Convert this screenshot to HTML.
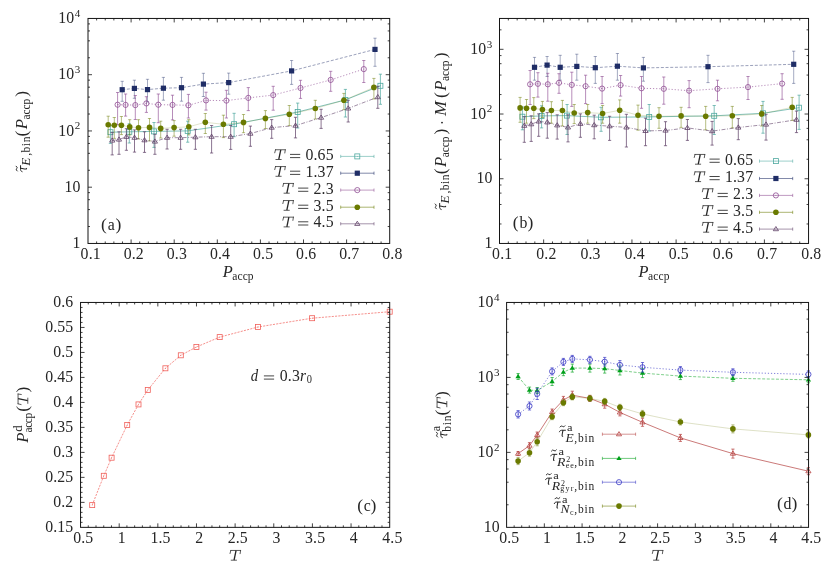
<!DOCTYPE html>
<html><head><meta charset="utf-8"><title>figure</title>
<style>html,body{margin:0;padding:0;background:#fff}svg{display:block;will-change:transform}text{font-family:"Liberation Serif",serif}</style>
</head><body>
<svg width="834" height="572" viewBox="0 0 834 572" font-family='"Liberation Serif", serif' fill="#262626">
<rect width="834" height="572" fill="#fff"/>
<path d="M110.4 125.6V143.4M108.8 125.6h3.2M108.8 143.4h3.2M129.3 123.7V143M127.7 123.7h3.2M127.7 143h3.2M154 122.5V147.4M152.4 122.5h3.2M152.4 147.4h3.2M187.7 121.2V142.2M186.1 121.2h3.2M186.1 142.2h3.2M234.1 113.3V136.7M232.5 113.3h3.2M232.5 136.7h3.2M297.7 103.1V128M296.1 103.1h3.2M296.1 128h3.2M345.4 89.4V117M343.8 89.4h3.2M343.8 117h3.2M380.4 74.2V104.3M378.8 74.2h3.2M378.8 104.3h3.2" stroke="#4fa9a0" stroke-width="0.8" fill="none" opacity="0.9"/>
<path d="M110.4 132.2 L129.3 131.8 L154 131.4 L187.7 130.9 L234.1 124.2 L297.7 112 L345.4 99.9 L380.4 85.8" stroke="#4fa9a0" stroke-width="0.7" fill="none" opacity="1"/>
<rect x="107.9" y="129.7" width="5" height="5" fill="none" stroke="#4fa9a0" stroke-width="0.8"/><circle cx="110.4" cy="132.2" r="0.45" fill="#4fa9a0"/><rect x="126.8" y="129.3" width="5" height="5" fill="none" stroke="#4fa9a0" stroke-width="0.8"/><circle cx="129.3" cy="131.8" r="0.45" fill="#4fa9a0"/><rect x="151.5" y="128.9" width="5" height="5" fill="none" stroke="#4fa9a0" stroke-width="0.8"/><circle cx="154" cy="131.4" r="0.45" fill="#4fa9a0"/><rect x="185.2" y="128.4" width="5" height="5" fill="none" stroke="#4fa9a0" stroke-width="0.8"/><circle cx="187.7" cy="130.9" r="0.45" fill="#4fa9a0"/><rect x="231.6" y="121.7" width="5" height="5" fill="none" stroke="#4fa9a0" stroke-width="0.8"/><circle cx="234.1" cy="124.2" r="0.45" fill="#4fa9a0"/><rect x="295.2" y="109.5" width="5" height="5" fill="none" stroke="#4fa9a0" stroke-width="0.8"/><circle cx="297.7" cy="112" r="0.45" fill="#4fa9a0"/><rect x="342.9" y="97.4" width="5" height="5" fill="none" stroke="#4fa9a0" stroke-width="0.8"/><circle cx="345.4" cy="99.9" r="0.45" fill="#4fa9a0"/><rect x="377.9" y="83.3" width="5" height="5" fill="none" stroke="#4fa9a0" stroke-width="0.8"/><circle cx="380.4" cy="85.8" r="0.45" fill="#4fa9a0"/>
<path d="M122.2 81.3V101.3M120.6 81.3h3.2M120.6 101.3h3.2M134.4 80.2V98.3M132.8 80.2h3.2M132.8 98.3h3.2M147.5 79.3V102M145.9 79.3h3.2M145.9 102h3.2M163.4 77.4V100.2M161.8 77.4h3.2M161.8 100.2h3.2M181.5 77.4V101.2M179.9 77.4h3.2M179.9 101.2h3.2M203.4 73.3V96.5M201.8 73.3h3.2M201.8 96.5h3.2M228.7 73.1V94.2M227.1 73.1h3.2M227.1 94.2h3.2M291.6 60.5V84.4M290 60.5h3.2M290 84.4h3.2M375 38.2V66.3M373.4 38.2h3.2M373.4 66.3h3.2" stroke="#1f2d66" stroke-width="0.8" fill="none" opacity="0.5"/>
<path d="M122.2 89.7 L134.4 88.4 L147.5 89.6 L163.4 88.2 L181.5 87.7 L203.4 84.1 L228.7 82.6 L291.6 70.9 L375 49.4" stroke="#1f2d66" stroke-width="0.6" fill="none" stroke-dasharray="3 1.7" opacity="0.75"/>
<rect x="119.6" y="87.1" width="5.2" height="5.2" fill="#1f2d66"/><rect x="131.8" y="85.8" width="5.2" height="5.2" fill="#1f2d66"/><rect x="144.9" y="87" width="5.2" height="5.2" fill="#1f2d66"/><rect x="160.8" y="85.6" width="5.2" height="5.2" fill="#1f2d66"/><rect x="178.9" y="85.1" width="5.2" height="5.2" fill="#1f2d66"/><rect x="200.8" y="81.5" width="5.2" height="5.2" fill="#1f2d66"/><rect x="226.1" y="80" width="5.2" height="5.2" fill="#1f2d66"/><rect x="289" y="68.3" width="5.2" height="5.2" fill="#1f2d66"/><rect x="372.4" y="46.8" width="5.2" height="5.2" fill="#1f2d66"/>
<path d="M117.6 92.5V124.5M116 92.5h3.2M116 124.5h3.2M125.6 94V116.1M124 94h3.2M124 116.1h3.2M135.3 95.5V119.5M133.7 95.5h3.2M133.7 119.5h3.2M146.4 96.7V112.4M144.8 96.7h3.2M144.8 112.4h3.2M158.3 94V122.7M156.7 94h3.2M156.7 122.7h3.2M172.5 95.2V119.9M170.9 95.2h3.2M170.9 119.9h3.2M188.4 94.4V118M186.8 94.4h3.2M186.8 118h3.2M206 92.2V110.1M204.4 92.2h3.2M204.4 110.1h3.2M226.4 90.3V118M224.8 90.3h3.2M224.8 118h3.2M248.3 87.6V110.6M246.7 87.6h3.2M246.7 110.6h3.2M273.2 86.3V110.2M271.6 86.3h3.2M271.6 110.2h3.2M300.5 80.3V98.4M298.9 80.3h3.2M298.9 98.4h3.2M330.7 71.3V91.3M329.1 71.3h3.2M329.1 91.3h3.2M363.8 60.5V82.5M362.2 60.5h3.2M362.2 82.5h3.2" stroke="#8e4b92" stroke-width="0.8" fill="none" opacity="0.8"/>
<path d="M117.6 104.7 L125.6 104.9 L135.3 105.1 L146.4 103.4 L158.3 104.7 L172.5 104.9 L188.4 105.3 L206 100.4 L226.4 100.6 L248.3 97.9 L273.2 95.1 L300.5 88 L330.7 79.9 L363.8 69.1" stroke="#8e4b92" stroke-width="0.7" fill="none" stroke-dasharray="1.2 1.9" opacity="0.9"/>
<circle cx="117.6" cy="104.7" r="2.6" fill="none" stroke="#8e4b92" stroke-width="0.8"/><circle cx="117.6" cy="104.7" r="0.45" fill="#8e4b92"/><circle cx="125.6" cy="104.9" r="2.6" fill="none" stroke="#8e4b92" stroke-width="0.8"/><circle cx="125.6" cy="104.9" r="0.45" fill="#8e4b92"/><circle cx="135.3" cy="105.1" r="2.6" fill="none" stroke="#8e4b92" stroke-width="0.8"/><circle cx="135.3" cy="105.1" r="0.45" fill="#8e4b92"/><circle cx="146.4" cy="103.4" r="2.6" fill="none" stroke="#8e4b92" stroke-width="0.8"/><circle cx="146.4" cy="103.4" r="0.45" fill="#8e4b92"/><circle cx="158.3" cy="104.7" r="2.6" fill="none" stroke="#8e4b92" stroke-width="0.8"/><circle cx="158.3" cy="104.7" r="0.45" fill="#8e4b92"/><circle cx="172.5" cy="104.9" r="2.6" fill="none" stroke="#8e4b92" stroke-width="0.8"/><circle cx="172.5" cy="104.9" r="0.45" fill="#8e4b92"/><circle cx="188.4" cy="105.3" r="2.6" fill="none" stroke="#8e4b92" stroke-width="0.8"/><circle cx="188.4" cy="105.3" r="0.45" fill="#8e4b92"/><circle cx="206" cy="100.4" r="2.6" fill="none" stroke="#8e4b92" stroke-width="0.8"/><circle cx="206" cy="100.4" r="0.45" fill="#8e4b92"/><circle cx="226.4" cy="100.6" r="2.6" fill="none" stroke="#8e4b92" stroke-width="0.8"/><circle cx="226.4" cy="100.6" r="0.45" fill="#8e4b92"/><circle cx="248.3" cy="97.9" r="2.6" fill="none" stroke="#8e4b92" stroke-width="0.8"/><circle cx="248.3" cy="97.9" r="0.45" fill="#8e4b92"/><circle cx="273.2" cy="95.1" r="2.6" fill="none" stroke="#8e4b92" stroke-width="0.8"/><circle cx="273.2" cy="95.1" r="0.45" fill="#8e4b92"/><circle cx="300.5" cy="88" r="2.6" fill="none" stroke="#8e4b92" stroke-width="0.8"/><circle cx="300.5" cy="88" r="0.45" fill="#8e4b92"/><circle cx="330.7" cy="79.9" r="2.6" fill="none" stroke="#8e4b92" stroke-width="0.8"/><circle cx="330.7" cy="79.9" r="0.45" fill="#8e4b92"/><circle cx="363.8" cy="69.1" r="2.6" fill="none" stroke="#8e4b92" stroke-width="0.8"/><circle cx="363.8" cy="69.1" r="0.45" fill="#8e4b92"/>
<path d="M108.2 116.2V137.2M106.6 116.2h3.2M106.6 137.2h3.2M114.3 117.5V138.4M112.7 117.5h3.2M112.7 138.4h3.2M121.4 116.5V134.6M119.8 116.5h3.2M119.8 134.6h3.2M129.7 119.7V135M128.1 119.7h3.2M128.1 135h3.2M138.5 119.7V138.9M136.9 119.7h3.2M136.9 138.9h3.2M149.5 118.5V140.9M147.9 118.5h3.2M147.9 140.9h3.2M160.7 121.2V138M159.1 121.2h3.2M159.1 138h3.2M174.1 120.6V136.2M172.5 120.6h3.2M172.5 136.2h3.2M188.8 119.7V134.9M187.2 119.7h3.2M187.2 134.9h3.2M205.3 113.5V133.5M203.7 113.5h3.2M203.7 133.5h3.2M223.4 115.2V137.6M221.8 115.2h3.2M221.8 137.6h3.2M243.5 114.5V132.7M241.9 114.5h3.2M241.9 132.7h3.2M265.4 110.6V128.5M263.8 110.6h3.2M263.8 128.5h3.2M289.3 105.5V125.6M287.7 105.5h3.2M287.7 125.6h3.2M315.3 100.3V119M313.7 100.3h3.2M313.7 119h3.2M343.9 93.4V109.7M342.3 93.4h3.2M342.3 109.7h3.2M373.9 78.4V99M372.3 78.4h3.2M372.3 99h3.2" stroke="#6a7a00" stroke-width="0.8" fill="none" opacity="0.62"/>
<path d="M108.2 124.7 L114.3 125.2 L121.4 125.3 L129.7 126.9 L138.5 127.7 L149.5 127.4 L160.7 128.4 L174.1 127.6 L188.8 126.8 L205.3 122.3 L223.4 124.3 L243.5 122.4 L265.4 118.4 L289.3 114.3 L315.3 108.5 L343.9 100.3 L373.9 87.4" stroke="#6a7a00" stroke-width="0.5" fill="none" opacity="0.4"/>
<circle cx="108.2" cy="124.7" r="2.8" fill="#6a7a00"/><circle cx="114.3" cy="125.2" r="2.8" fill="#6a7a00"/><circle cx="121.4" cy="125.3" r="2.8" fill="#6a7a00"/><circle cx="129.7" cy="126.9" r="2.8" fill="#6a7a00"/><circle cx="138.5" cy="127.7" r="2.8" fill="#6a7a00"/><circle cx="149.5" cy="127.4" r="2.8" fill="#6a7a00"/><circle cx="160.7" cy="128.4" r="2.8" fill="#6a7a00"/><circle cx="174.1" cy="127.6" r="2.8" fill="#6a7a00"/><circle cx="188.8" cy="126.8" r="2.8" fill="#6a7a00"/><circle cx="205.3" cy="122.3" r="2.8" fill="#6a7a00"/><circle cx="223.4" cy="124.3" r="2.8" fill="#6a7a00"/><circle cx="243.5" cy="122.4" r="2.8" fill="#6a7a00"/><circle cx="265.4" cy="118.4" r="2.8" fill="#6a7a00"/><circle cx="289.3" cy="114.3" r="2.8" fill="#6a7a00"/><circle cx="315.3" cy="108.5" r="2.8" fill="#6a7a00"/><circle cx="343.9" cy="100.3" r="2.8" fill="#6a7a00"/><circle cx="373.9" cy="87.4" r="2.8" fill="#6a7a00"/>
<path d="M112.2 132.4V154.9M110.6 132.4h3.2M110.6 154.9h3.2M119 131.8V154.3M117.4 131.8h3.2M117.4 154.3h3.2M126.4 128.7V150.3M124.8 128.7h3.2M124.8 150.3h3.2M134.5 129.9V152.1M132.9 129.9h3.2M132.9 152.1h3.2M144.5 131.8V152.4M142.9 131.8h3.2M142.9 152.4h3.2M154.9 134.3V154.3M153.3 134.3h3.2M153.3 154.3h3.2M167.1 129.3V149M165.5 129.3h3.2M165.5 149h3.2M180.6 129.3V149.3M179 129.3h3.2M179 149.3h3.2M195.4 129.3V149.3M193.8 129.3h3.2M193.8 149.3h3.2M211.6 125.5V153M210 125.5h3.2M210 153h3.2M230.7 125.5V149.4M229.1 125.5h3.2M229.1 149.4h3.2M250.4 126.1V146.3M248.8 126.1h3.2M248.8 146.3h3.2M271.7 119.6V138.3M270.1 119.6h3.2M270.1 138.3h3.2M295.5 117.3V137.9M293.9 117.3h3.2M293.9 137.9h3.2M321.1 109.3V128.4M319.5 109.3h3.2M319.5 128.4h3.2M348.2 100.3V122M346.6 100.3h3.2M346.6 122h3.2M377.8 86.3V108.3M376.2 86.3h3.2M376.2 108.3h3.2" stroke="#5e3f66" stroke-width="0.8" fill="none" opacity="0.9"/>
<path d="M112.2 140.5 L119 139.5 L126.4 136.8 L134.5 137.7 L144.5 140.2 L154.9 141.5 L167.1 137.7 L180.6 137.7 L195.4 137.2 L211.6 136.7 L230.7 136.7 L250.4 133.6 L271.7 127.6 L295.5 125.6 L321.1 117.6 L348.2 108.4 L377.8 97.1" stroke="#5e3f66" stroke-width="0.65" fill="none" stroke-dasharray="4 1.5 1 1.5" opacity="0.9"/>
<path d="M112.2 137.9L114.8 142.11H109.6Z" fill="none" stroke="#5e3f66" stroke-width="0.8"/><circle cx="112.2" cy="140.5" r="0.45" fill="#5e3f66"/><path d="M119 136.9L121.6 141.11H116.4Z" fill="none" stroke="#5e3f66" stroke-width="0.8"/><circle cx="119" cy="139.5" r="0.45" fill="#5e3f66"/><path d="M126.4 134.2L129 138.41H123.8Z" fill="none" stroke="#5e3f66" stroke-width="0.8"/><circle cx="126.4" cy="136.8" r="0.45" fill="#5e3f66"/><path d="M134.5 135.1L137.1 139.31H131.9Z" fill="none" stroke="#5e3f66" stroke-width="0.8"/><circle cx="134.5" cy="137.7" r="0.45" fill="#5e3f66"/><path d="M144.5 137.6L147.1 141.81H141.9Z" fill="none" stroke="#5e3f66" stroke-width="0.8"/><circle cx="144.5" cy="140.2" r="0.45" fill="#5e3f66"/><path d="M154.9 138.9L157.5 143.11H152.3Z" fill="none" stroke="#5e3f66" stroke-width="0.8"/><circle cx="154.9" cy="141.5" r="0.45" fill="#5e3f66"/><path d="M167.1 135.1L169.7 139.31H164.5Z" fill="none" stroke="#5e3f66" stroke-width="0.8"/><circle cx="167.1" cy="137.7" r="0.45" fill="#5e3f66"/><path d="M180.6 135.1L183.2 139.31H178Z" fill="none" stroke="#5e3f66" stroke-width="0.8"/><circle cx="180.6" cy="137.7" r="0.45" fill="#5e3f66"/><path d="M195.4 134.6L198 138.81H192.8Z" fill="none" stroke="#5e3f66" stroke-width="0.8"/><circle cx="195.4" cy="137.2" r="0.45" fill="#5e3f66"/><path d="M211.6 134.1L214.2 138.31H209Z" fill="none" stroke="#5e3f66" stroke-width="0.8"/><circle cx="211.6" cy="136.7" r="0.45" fill="#5e3f66"/><path d="M230.7 134.1L233.3 138.31H228.1Z" fill="none" stroke="#5e3f66" stroke-width="0.8"/><circle cx="230.7" cy="136.7" r="0.45" fill="#5e3f66"/><path d="M250.4 131L253 135.21H247.8Z" fill="none" stroke="#5e3f66" stroke-width="0.8"/><circle cx="250.4" cy="133.6" r="0.45" fill="#5e3f66"/><path d="M271.7 125L274.3 129.21H269.1Z" fill="none" stroke="#5e3f66" stroke-width="0.8"/><circle cx="271.7" cy="127.6" r="0.45" fill="#5e3f66"/><path d="M295.5 123L298.1 127.21H292.9Z" fill="none" stroke="#5e3f66" stroke-width="0.8"/><circle cx="295.5" cy="125.6" r="0.45" fill="#5e3f66"/><path d="M321.1 115L323.7 119.21H318.5Z" fill="none" stroke="#5e3f66" stroke-width="0.8"/><circle cx="321.1" cy="117.6" r="0.45" fill="#5e3f66"/><path d="M348.2 105.8L350.8 110.01H345.6Z" fill="none" stroke="#5e3f66" stroke-width="0.8"/><circle cx="348.2" cy="108.4" r="0.45" fill="#5e3f66"/><path d="M377.8 94.5L380.4 98.71H375.2Z" fill="none" stroke="#5e3f66" stroke-width="0.8"/><circle cx="377.8" cy="97.1" r="0.45" fill="#5e3f66"/>
<rect x="88" y="18.45" width="301.7" height="225" fill="none" stroke="#141414" stroke-width="1"/>
<path d="M131.1 243.45v-4M131.1 18.45v4M174.2 243.45v-4M174.2 18.45v4M217.3 243.45v-4M217.3 18.45v4M260.4 243.45v-4M260.4 18.45v4M303.5 243.45v-4M303.5 18.45v4M346.6 243.45v-4M346.6 18.45v4" stroke="#141414" stroke-width="0.8" fill="none"/>
<path d="M96.62 243.45v-2M96.62 18.45v2M105.24 243.45v-2M105.24 18.45v2M113.86 243.45v-2M113.86 18.45v2M122.48 243.45v-2M122.48 18.45v2M139.72 243.45v-2M139.72 18.45v2M148.34 243.45v-2M148.34 18.45v2M156.96 243.45v-2M156.96 18.45v2M165.58 243.45v-2M165.58 18.45v2M182.82 243.45v-2M182.82 18.45v2M191.44 243.45v-2M191.44 18.45v2M200.06 243.45v-2M200.06 18.45v2M208.68 243.45v-2M208.68 18.45v2M225.92 243.45v-2M225.92 18.45v2M234.54 243.45v-2M234.54 18.45v2M243.16 243.45v-2M243.16 18.45v2M251.78 243.45v-2M251.78 18.45v2M269.02 243.45v-2M269.02 18.45v2M277.64 243.45v-2M277.64 18.45v2M286.26 243.45v-2M286.26 18.45v2M294.88 243.45v-2M294.88 18.45v2M312.12 243.45v-2M312.12 18.45v2M320.74 243.45v-2M320.74 18.45v2M329.36 243.45v-2M329.36 18.45v2M337.98 243.45v-2M337.98 18.45v2M355.22 243.45v-2M355.22 18.45v2M363.84 243.45v-2M363.84 18.45v2M372.46 243.45v-2M372.46 18.45v2M381.08 243.45v-2M381.08 18.45v2" stroke="#141414" stroke-width="0.8" fill="none"/>
<path d="M88 187.2h4M389.7 187.2h-4M88 130.95h4M389.7 130.95h-4M88 74.7h4M389.7 74.7h-4" stroke="#141414" stroke-width="0.8" fill="none"/>
<path d="M88 226.52h2M389.7 226.52h-2M88 209.58h2M389.7 209.58h-2M88 199.68h2M389.7 199.68h-2M88 192.65h2M389.7 192.65h-2M88 170.27h2M389.7 170.27h-2M88 153.33h2M389.7 153.33h-2M88 143.43h2M389.7 143.43h-2M88 136.4h2M389.7 136.4h-2M88 114.02h2M389.7 114.02h-2M88 97.08h2M389.7 97.08h-2M88 87.18h2M389.7 87.18h-2M88 80.15h2M389.7 80.15h-2M88 57.77h2M389.7 57.77h-2M88 40.83h2M389.7 40.83h-2M88 30.93h2M389.7 30.93h-2M88 23.9h2M389.7 23.9h-2" stroke="#141414" stroke-width="0.8" fill="none"/>
<text x="90.7" y="259.4" font-size="15.8" text-anchor="middle" letter-spacing="0.15" >0.1</text>
<text x="133.8" y="259.4" font-size="15.8" text-anchor="middle" letter-spacing="0.15" >0.2</text>
<text x="176.9" y="259.4" font-size="15.8" text-anchor="middle" letter-spacing="0.15" >0.3</text>
<text x="220" y="259.4" font-size="15.8" text-anchor="middle" letter-spacing="0.15" >0.4</text>
<text x="263.1" y="259.4" font-size="15.8" text-anchor="middle" letter-spacing="0.15" >0.5</text>
<text x="306.2" y="259.4" font-size="15.8" text-anchor="middle" letter-spacing="0.15" >0.6</text>
<text x="349.3" y="259.4" font-size="15.8" text-anchor="middle" letter-spacing="0.15" >0.7</text>
<text x="392.4" y="259.4" font-size="15.8" text-anchor="middle" letter-spacing="0.15" >0.8</text>
<text x="80.6" y="248" font-size="15.8" text-anchor="end" letter-spacing="0.15" >1</text>
<text x="80.6" y="191.75" font-size="15.8" text-anchor="end" letter-spacing="0.15" >10</text>
<text x="80.2" y="129.3" font-size="11" text-anchor="end" >2</text>
<text x="74.4" y="135.5" font-size="15.8" text-anchor="end" letter-spacing="0.15" >10</text>
<text x="80.2" y="73.05" font-size="11" text-anchor="end" >3</text>
<text x="74.4" y="79.25" font-size="15.8" text-anchor="end" letter-spacing="0.15" >10</text>
<text x="80.2" y="16.8" font-size="11" text-anchor="end" >4</text>
<text x="74.4" y="23" font-size="15.8" text-anchor="end" letter-spacing="0.15" >10</text>
<text x="333.7" y="159.8" font-size="15.8" text-anchor="end" letter-spacing="0.15" >0.65</text>
<path d="M290 154.4h10.2M290 157.6h10.2" stroke="#262626" stroke-width="0.85" fill="none"/>
<g transform="translate(274.6 159.8) scale(1.0)" stroke="#262626" fill="none" stroke-linecap="round"><path d="M0.9 -10.05H10.7M0.9 -10.05L0.15 -7.0M10.7 -10.05L10.2 -6.8M1.3 -0.3H6.6" stroke-width="0.75"/><path d="M6.15 -10L4.15 -0.4" stroke-width="1.3" stroke-linecap="butt"/></g>
<path d="M340.7 156.4H374M340.7 154.8v3.2M374 154.8v3.2" stroke="#4fa9a0" stroke-width="0.7" fill="none" opacity="0.8"/>
<rect x="354.8" y="153.9" width="5" height="5" fill="none" stroke="#4fa9a0" stroke-width="0.8"/><circle cx="357.3" cy="156.4" r="0.45" fill="#4fa9a0"/>
<text x="333.7" y="176.6" font-size="15.8" text-anchor="end" letter-spacing="0.15" >1.37</text>
<path d="M290 171.2h10.2M290 174.4h10.2" stroke="#262626" stroke-width="0.85" fill="none"/>
<g transform="translate(274.6 176.6) scale(1.0)" stroke="#262626" fill="none" stroke-linecap="round"><path d="M0.9 -10.05H10.7M0.9 -10.05L0.15 -7.0M10.7 -10.05L10.2 -6.8M1.3 -0.3H6.6" stroke-width="0.75"/><path d="M6.15 -10L4.15 -0.4" stroke-width="1.3" stroke-linecap="butt"/></g>
<path d="M340.7 173.2H374M340.7 171.6v3.2M374 171.6v3.2" stroke="#1f2d66" stroke-width="0.7" fill="none" opacity="0.8"/>
<rect x="354.7" y="170.6" width="5.2" height="5.2" fill="#1f2d66"/>
<text x="333.7" y="193.5" font-size="15.8" text-anchor="end" letter-spacing="0.15" >2.3</text>
<path d="M298.1 188.1h10.2M298.1 191.3h10.2" stroke="#262626" stroke-width="0.85" fill="none"/>
<g transform="translate(282.7 193.5) scale(1.0)" stroke="#262626" fill="none" stroke-linecap="round"><path d="M0.9 -10.05H10.7M0.9 -10.05L0.15 -7.0M10.7 -10.05L10.2 -6.8M1.3 -0.3H6.6" stroke-width="0.75"/><path d="M6.15 -10L4.15 -0.4" stroke-width="1.3" stroke-linecap="butt"/></g>
<path d="M340.7 190.1H374M340.7 188.5v3.2M374 188.5v3.2" stroke="#8e4b92" stroke-width="0.7" fill="none" opacity="0.8"/>
<circle cx="357.3" cy="190.1" r="2.6" fill="none" stroke="#8e4b92" stroke-width="0.8"/><circle cx="357.3" cy="190.1" r="0.45" fill="#8e4b92"/>
<text x="333.7" y="210.6" font-size="15.8" text-anchor="end" letter-spacing="0.15" >3.5</text>
<path d="M298.1 205.2h10.2M298.1 208.4h10.2" stroke="#262626" stroke-width="0.85" fill="none"/>
<g transform="translate(282.7 210.6) scale(1.0)" stroke="#262626" fill="none" stroke-linecap="round"><path d="M0.9 -10.05H10.7M0.9 -10.05L0.15 -7.0M10.7 -10.05L10.2 -6.8M1.3 -0.3H6.6" stroke-width="0.75"/><path d="M6.15 -10L4.15 -0.4" stroke-width="1.3" stroke-linecap="butt"/></g>
<path d="M340.7 207.2H374M340.7 205.6v3.2M374 205.6v3.2" stroke="#6a7a00" stroke-width="0.7" fill="none" opacity="0.8"/>
<circle cx="357.3" cy="207.2" r="2.8" fill="#6a7a00"/>
<text x="333.7" y="227.2" font-size="15.8" text-anchor="end" letter-spacing="0.15" >4.5</text>
<path d="M298.1 221.8h10.2M298.1 225h10.2" stroke="#262626" stroke-width="0.85" fill="none"/>
<g transform="translate(282.7 227.2) scale(1.0)" stroke="#262626" fill="none" stroke-linecap="round"><path d="M0.9 -10.05H10.7M0.9 -10.05L0.15 -7.0M10.7 -10.05L10.2 -6.8M1.3 -0.3H6.6" stroke-width="0.75"/><path d="M6.15 -10L4.15 -0.4" stroke-width="1.3" stroke-linecap="butt"/></g>
<path d="M340.7 223.8H374M340.7 222.2v3.2M374 222.2v3.2" stroke="#5e3f66" stroke-width="0.7" fill="none" opacity="0.8"/>
<path d="M357.3 221.2L359.9 225.41H354.7Z" fill="none" stroke="#5e3f66" stroke-width="0.8"/><circle cx="357.3" cy="223.8" r="0.45" fill="#5e3f66"/>
<text x="100.9" y="230.1" font-size="17.5" text-anchor="start" >(</text>
<text x="107.8" y="230.1" font-size="15.8" text-anchor="start" >a</text>
<text x="115.4" y="230.1" font-size="17.5" text-anchor="start" >)</text>
<path d="M522.4 107V129.8M520.8 107h3.2M520.8 129.8h3.2M541.6 105.8V127.9M540 105.8h3.2M540 127.9h3.2M567.1 104.5V134.5M565.5 104.5h3.2M565.5 134.5h3.2M601.1 107.3V131.3M599.5 107.3h3.2M599.5 131.3h3.2M649.2 104.5V131M647.6 104.5h3.2M647.6 131h3.2M714.2 105.5V134.5M712.6 105.5h3.2M712.6 134.5h3.2M763 101.4V133.2M761.4 101.4h3.2M761.4 133.2h3.2M799.1 95.2V129.4M797.5 95.2h3.2M797.5 129.4h3.2" stroke="#4fa9a0" stroke-width="0.8" fill="none" opacity="0.9"/>
<path d="M522.4 116.7 L541.6 115.9 L567.1 115.6 L601.1 117.3 L649.2 116.9 L714.2 115.8 L763 113.3 L799.1 107.7" stroke="#4fa9a0" stroke-width="0.7" fill="none" opacity="1"/>
<rect x="519.9" y="114.2" width="5" height="5" fill="none" stroke="#4fa9a0" stroke-width="0.8"/><circle cx="522.4" cy="116.7" r="0.45" fill="#4fa9a0"/><rect x="539.1" y="113.4" width="5" height="5" fill="none" stroke="#4fa9a0" stroke-width="0.8"/><circle cx="541.6" cy="115.9" r="0.45" fill="#4fa9a0"/><rect x="564.6" y="113.1" width="5" height="5" fill="none" stroke="#4fa9a0" stroke-width="0.8"/><circle cx="567.1" cy="115.6" r="0.45" fill="#4fa9a0"/><rect x="598.6" y="114.8" width="5" height="5" fill="none" stroke="#4fa9a0" stroke-width="0.8"/><circle cx="601.1" cy="117.3" r="0.45" fill="#4fa9a0"/><rect x="646.7" y="114.4" width="5" height="5" fill="none" stroke="#4fa9a0" stroke-width="0.8"/><circle cx="649.2" cy="116.9" r="0.45" fill="#4fa9a0"/><rect x="711.7" y="113.3" width="5" height="5" fill="none" stroke="#4fa9a0" stroke-width="0.8"/><circle cx="714.2" cy="115.8" r="0.45" fill="#4fa9a0"/><rect x="760.5" y="110.8" width="5" height="5" fill="none" stroke="#4fa9a0" stroke-width="0.8"/><circle cx="763" cy="113.3" r="0.45" fill="#4fa9a0"/><rect x="796.6" y="105.2" width="5" height="5" fill="none" stroke="#4fa9a0" stroke-width="0.8"/><circle cx="799.1" cy="107.7" r="0.45" fill="#4fa9a0"/>
<path d="M534.5 57.4V80.2M532.9 57.4h3.2M532.9 80.2h3.2M547.1 56.5V76.5M545.5 56.5h3.2M545.5 76.5h3.2M560.2 55.3V80.2M558.6 55.3h3.2M558.6 80.2h3.2M576.8 54.2V80.2M575.2 54.2h3.2M575.2 80.2h3.2M595.3 56.5V83.4M593.7 56.5h3.2M593.7 83.4h3.2M617.4 53.5V80.2M615.8 53.5h3.2M615.8 80.2h3.2M643.4 57.4V81.2M641.8 57.4h3.2M641.8 81.2h3.2M708 55.3V82.6M706.4 55.3h3.2M706.4 82.6h3.2M793.7 51.2V83.4M792.1 51.2h3.2M792.1 83.4h3.2" stroke="#1f2d66" stroke-width="0.8" fill="none" opacity="0.5"/>
<path d="M534.5 67.3 L547.1 65.1 L560.2 67.3 L576.8 66.4 L595.3 67.7 L617.4 66.2 L643.4 67.9 L708 66.7 L793.7 64.3" stroke="#1f2d66" stroke-width="0.6" fill="none" stroke-dasharray="3 1.7" opacity="0.75"/>
<rect x="531.9" y="64.7" width="5.2" height="5.2" fill="#1f2d66"/><rect x="544.5" y="62.5" width="5.2" height="5.2" fill="#1f2d66"/><rect x="557.6" y="64.7" width="5.2" height="5.2" fill="#1f2d66"/><rect x="574.2" y="63.8" width="5.2" height="5.2" fill="#1f2d66"/><rect x="592.7" y="65.1" width="5.2" height="5.2" fill="#1f2d66"/><rect x="614.8" y="63.6" width="5.2" height="5.2" fill="#1f2d66"/><rect x="640.8" y="65.3" width="5.2" height="5.2" fill="#1f2d66"/><rect x="705.4" y="64.1" width="5.2" height="5.2" fill="#1f2d66"/><rect x="791.1" y="61.7" width="5.2" height="5.2" fill="#1f2d66"/>
<path d="M530.1 70.5V104.5M528.5 70.5h3.2M528.5 104.5h3.2M537.9 72.7V97.1M536.3 72.7h3.2M536.3 97.1h3.2M547.8 73.3V101.2M546.2 73.3h3.2M546.2 101.2h3.2M559 73.7V93.3M557.4 73.7h3.2M557.4 93.3h3.2M571.8 72.2V106.4M570.2 72.2h3.2M570.2 106.4h3.2M585.6 75.2V103.6M584 75.2h3.2M584 103.6h3.2M602.1 76.5V103.6M600.5 76.5h3.2M600.5 103.6h3.2M620.6 75.5V96.1M619 75.5h3.2M619 96.1h3.2M641.5 76.5V108.3M639.9 76.5h3.2M639.9 108.3h3.2M663.8 77V104.2M662.2 77h3.2M662.2 104.2h3.2M689.1 80.6V107.7M687.5 80.6h3.2M687.5 107.7h3.2M717.5 80.2V100.8M715.9 80.2h3.2M715.9 100.8h3.2M748 76.5V99.5M746.4 76.5h3.2M746.4 99.5h3.2M782.1 73.7V99.3M780.5 73.7h3.2M780.5 99.3h3.2" stroke="#8e4b92" stroke-width="0.8" fill="none" opacity="0.8"/>
<path d="M530.1 84.3 L537.9 83.8 L547.8 84.3 L559 82.8 L571.8 84.9 L585.6 86.2 L602.1 88.6 L620.6 85.1 L641.5 88.3 L663.8 88.8 L689.1 90.7 L717.5 88.8 L748 87.1 L782.1 83.6" stroke="#8e4b92" stroke-width="0.7" fill="none" stroke-dasharray="1.2 1.9" opacity="0.9"/>
<circle cx="530.1" cy="84.3" r="2.6" fill="none" stroke="#8e4b92" stroke-width="0.8"/><circle cx="530.1" cy="84.3" r="0.45" fill="#8e4b92"/><circle cx="537.9" cy="83.8" r="2.6" fill="none" stroke="#8e4b92" stroke-width="0.8"/><circle cx="537.9" cy="83.8" r="0.45" fill="#8e4b92"/><circle cx="547.8" cy="84.3" r="2.6" fill="none" stroke="#8e4b92" stroke-width="0.8"/><circle cx="547.8" cy="84.3" r="0.45" fill="#8e4b92"/><circle cx="559" cy="82.8" r="2.6" fill="none" stroke="#8e4b92" stroke-width="0.8"/><circle cx="559" cy="82.8" r="0.45" fill="#8e4b92"/><circle cx="571.8" cy="84.9" r="2.6" fill="none" stroke="#8e4b92" stroke-width="0.8"/><circle cx="571.8" cy="84.9" r="0.45" fill="#8e4b92"/><circle cx="585.6" cy="86.2" r="2.6" fill="none" stroke="#8e4b92" stroke-width="0.8"/><circle cx="585.6" cy="86.2" r="0.45" fill="#8e4b92"/><circle cx="602.1" cy="88.6" r="2.6" fill="none" stroke="#8e4b92" stroke-width="0.8"/><circle cx="602.1" cy="88.6" r="0.45" fill="#8e4b92"/><circle cx="620.6" cy="85.1" r="2.6" fill="none" stroke="#8e4b92" stroke-width="0.8"/><circle cx="620.6" cy="85.1" r="0.45" fill="#8e4b92"/><circle cx="641.5" cy="88.3" r="2.6" fill="none" stroke="#8e4b92" stroke-width="0.8"/><circle cx="641.5" cy="88.3" r="0.45" fill="#8e4b92"/><circle cx="663.8" cy="88.8" r="2.6" fill="none" stroke="#8e4b92" stroke-width="0.8"/><circle cx="663.8" cy="88.8" r="0.45" fill="#8e4b92"/><circle cx="689.1" cy="90.7" r="2.6" fill="none" stroke="#8e4b92" stroke-width="0.8"/><circle cx="689.1" cy="90.7" r="0.45" fill="#8e4b92"/><circle cx="717.5" cy="88.8" r="2.6" fill="none" stroke="#8e4b92" stroke-width="0.8"/><circle cx="717.5" cy="88.8" r="0.45" fill="#8e4b92"/><circle cx="748" cy="87.1" r="2.6" fill="none" stroke="#8e4b92" stroke-width="0.8"/><circle cx="748" cy="87.1" r="0.45" fill="#8e4b92"/><circle cx="782.1" cy="83.6" r="2.6" fill="none" stroke="#8e4b92" stroke-width="0.8"/><circle cx="782.1" cy="83.6" r="0.45" fill="#8e4b92"/>
<path d="M520.1 97.4V122.3M518.5 97.4h3.2M518.5 122.3h3.2M526.5 99.5V123.2M524.9 99.5h3.2M524.9 123.2h3.2M533.8 97.6V118.6M532.2 97.6h3.2M532.2 118.6h3.2M542.4 101.4V117.6M540.8 101.4h3.2M540.8 117.6h3.2M551.4 101.7V123.2M549.8 101.7h3.2M549.8 123.2h3.2M562.4 100.4V126M560.8 100.4h3.2M560.8 126h3.2M574.2 104.5V123.6M572.6 104.5h3.2M572.6 123.6h3.2M587.7 104.5V123.2M586.1 104.5h3.2M586.1 123.2h3.2M602.6 105.5V123.2M601 105.5h3.2M601 123.2h3.2M619.7 99.9V123.2M618.1 99.9h3.2M618.1 123.2h3.2M638 105.1V130.2M636.4 105.1h3.2M636.4 130.2h3.2M659 107.7V128.3M657.4 107.7h3.2M657.4 128.3h3.2M681.1 107.3V127.4M679.5 107.3h3.2M679.5 127.4h3.2M705.7 106.4V129.8M704.1 106.4h3.2M704.1 129.8h3.2M732.3 106.4V127.9M730.7 106.4h3.2M730.7 127.9h3.2M761.7 105.5V126M760.1 105.5h3.2M760.1 126h3.2M792.2 97.4V120.4M790.6 97.4h3.2M790.6 120.4h3.2" stroke="#6a7a00" stroke-width="0.8" fill="none" opacity="0.62"/>
<path d="M520.1 107.9 L526.5 108.3 L533.8 108.3 L542.4 109.6 L551.4 110.5 L562.4 110.5 L574.2 113 L587.7 112.6 L602.6 113.5 L619.7 110.3 L638 115.2 L659 116.3 L681.1 115.9 L705.7 116.3 L732.3 115.8 L761.7 113.9 L792.2 107.3" stroke="#6a7a00" stroke-width="0.5" fill="none" opacity="0.4"/>
<circle cx="520.1" cy="107.9" r="2.8" fill="#6a7a00"/><circle cx="526.5" cy="108.3" r="2.8" fill="#6a7a00"/><circle cx="533.8" cy="108.3" r="2.8" fill="#6a7a00"/><circle cx="542.4" cy="109.6" r="2.8" fill="#6a7a00"/><circle cx="551.4" cy="110.5" r="2.8" fill="#6a7a00"/><circle cx="562.4" cy="110.5" r="2.8" fill="#6a7a00"/><circle cx="574.2" cy="113" r="2.8" fill="#6a7a00"/><circle cx="587.7" cy="112.6" r="2.8" fill="#6a7a00"/><circle cx="602.6" cy="113.5" r="2.8" fill="#6a7a00"/><circle cx="619.7" cy="110.3" r="2.8" fill="#6a7a00"/><circle cx="638" cy="115.2" r="2.8" fill="#6a7a00"/><circle cx="659" cy="116.3" r="2.8" fill="#6a7a00"/><circle cx="681.1" cy="115.9" r="2.8" fill="#6a7a00"/><circle cx="705.7" cy="116.3" r="2.8" fill="#6a7a00"/><circle cx="732.3" cy="115.8" r="2.8" fill="#6a7a00"/><circle cx="761.7" cy="113.9" r="2.8" fill="#6a7a00"/><circle cx="792.2" cy="107.3" r="2.8" fill="#6a7a00"/>
<path d="M524.3 116.7V142.3M522.7 116.7h3.2M522.7 142.3h3.2M531.2 115.8V141.4M529.6 115.8h3.2M529.6 141.4h3.2M538.7 113.9V136.3M537.1 113.9h3.2M537.1 136.3h3.2M547.3 112.6V138.2M545.7 112.6h3.2M545.7 138.2h3.2M557.2 114.8V139.1M555.6 114.8h3.2M555.6 139.1h3.2M568 114.8V141.9M566.4 114.8h3.2M566.4 141.9h3.2M580.4 113.9V137.3M578.8 113.9h3.2M578.8 137.3h3.2M594.2 115.2V138.8M592.6 115.2h3.2M592.6 138.8h3.2M609.6 116.3V140.4M608 116.3h3.2M608 140.4h3.2M626.4 114.3V147M624.8 114.3h3.2M624.8 147h3.2M645.5 118.2V145.7M643.9 118.2h3.2M643.9 145.7h3.2M665.5 121.7V145.7M663.9 121.7h3.2M663.9 145.7h3.2M687.4 119.5V140.4M685.8 119.5h3.2M685.8 140.4h3.2M712.1 121.4V145.1M710.5 121.4h3.2M710.5 145.1h3.2M738.3 118.6V139.7M736.7 118.6h3.2M736.7 139.7h3.2M766 114.3V140.1M764.4 114.3h3.2M764.4 140.1h3.2M796.5 111.1V132.6M794.9 111.1h3.2M794.9 132.6h3.2" stroke="#5e3f66" stroke-width="0.8" fill="none" opacity="0.9"/>
<path d="M524.3 125.7 L531.2 124.2 L538.7 121.4 L547.3 122.3 L557.2 125.3 L568 127.4 L580.4 123.8 L594.2 125.1 L609.6 126.2 L626.4 127.4 L645.5 130.9 L665.5 130.5 L687.4 127.9 L712.1 131.1 L738.3 127.5 L766 124.5 L796.5 119.7" stroke="#5e3f66" stroke-width="0.65" fill="none" stroke-dasharray="4 1.5 1 1.5" opacity="0.9"/>
<path d="M524.3 123.1L526.9 127.31H521.7Z" fill="none" stroke="#5e3f66" stroke-width="0.8"/><circle cx="524.3" cy="125.7" r="0.45" fill="#5e3f66"/><path d="M531.2 121.6L533.8 125.81H528.6Z" fill="none" stroke="#5e3f66" stroke-width="0.8"/><circle cx="531.2" cy="124.2" r="0.45" fill="#5e3f66"/><path d="M538.7 118.8L541.3 123.01H536.1Z" fill="none" stroke="#5e3f66" stroke-width="0.8"/><circle cx="538.7" cy="121.4" r="0.45" fill="#5e3f66"/><path d="M547.3 119.7L549.9 123.91H544.7Z" fill="none" stroke="#5e3f66" stroke-width="0.8"/><circle cx="547.3" cy="122.3" r="0.45" fill="#5e3f66"/><path d="M557.2 122.7L559.8 126.91H554.6Z" fill="none" stroke="#5e3f66" stroke-width="0.8"/><circle cx="557.2" cy="125.3" r="0.45" fill="#5e3f66"/><path d="M568 124.8L570.6 129.01H565.4Z" fill="none" stroke="#5e3f66" stroke-width="0.8"/><circle cx="568" cy="127.4" r="0.45" fill="#5e3f66"/><path d="M580.4 121.2L583 125.41H577.8Z" fill="none" stroke="#5e3f66" stroke-width="0.8"/><circle cx="580.4" cy="123.8" r="0.45" fill="#5e3f66"/><path d="M594.2 122.5L596.8 126.71H591.6Z" fill="none" stroke="#5e3f66" stroke-width="0.8"/><circle cx="594.2" cy="125.1" r="0.45" fill="#5e3f66"/><path d="M609.6 123.6L612.2 127.81H607Z" fill="none" stroke="#5e3f66" stroke-width="0.8"/><circle cx="609.6" cy="126.2" r="0.45" fill="#5e3f66"/><path d="M626.4 124.8L629 129.01H623.8Z" fill="none" stroke="#5e3f66" stroke-width="0.8"/><circle cx="626.4" cy="127.4" r="0.45" fill="#5e3f66"/><path d="M645.5 128.3L648.1 132.51H642.9Z" fill="none" stroke="#5e3f66" stroke-width="0.8"/><circle cx="645.5" cy="130.9" r="0.45" fill="#5e3f66"/><path d="M665.5 127.9L668.1 132.11H662.9Z" fill="none" stroke="#5e3f66" stroke-width="0.8"/><circle cx="665.5" cy="130.5" r="0.45" fill="#5e3f66"/><path d="M687.4 125.3L690 129.51H684.8Z" fill="none" stroke="#5e3f66" stroke-width="0.8"/><circle cx="687.4" cy="127.9" r="0.45" fill="#5e3f66"/><path d="M712.1 128.5L714.7 132.71H709.5Z" fill="none" stroke="#5e3f66" stroke-width="0.8"/><circle cx="712.1" cy="131.1" r="0.45" fill="#5e3f66"/><path d="M738.3 124.9L740.9 129.11H735.7Z" fill="none" stroke="#5e3f66" stroke-width="0.8"/><circle cx="738.3" cy="127.5" r="0.45" fill="#5e3f66"/><path d="M766 121.9L768.6 126.11H763.4Z" fill="none" stroke="#5e3f66" stroke-width="0.8"/><circle cx="766" cy="124.5" r="0.45" fill="#5e3f66"/><path d="M796.5 117.1L799.1 121.31H793.9Z" fill="none" stroke="#5e3f66" stroke-width="0.8"/><circle cx="796.5" cy="119.7" r="0.45" fill="#5e3f66"/>
<rect x="499.5" y="18.45" width="309.05" height="225" fill="none" stroke="#141414" stroke-width="1"/>
<path d="M543.65 243.45v-4M543.65 18.45v4M587.8 243.45v-4M587.8 18.45v4M631.95 243.45v-4M631.95 18.45v4M676.1 243.45v-4M676.1 18.45v4M720.25 243.45v-4M720.25 18.45v4M764.4 243.45v-4M764.4 18.45v4" stroke="#141414" stroke-width="0.8" fill="none"/>
<path d="M508.33 243.45v-2M508.33 18.45v2M517.16 243.45v-2M517.16 18.45v2M525.99 243.45v-2M525.99 18.45v2M534.82 243.45v-2M534.82 18.45v2M552.48 243.45v-2M552.48 18.45v2M561.31 243.45v-2M561.31 18.45v2M570.14 243.45v-2M570.14 18.45v2M578.97 243.45v-2M578.97 18.45v2M596.63 243.45v-2M596.63 18.45v2M605.46 243.45v-2M605.46 18.45v2M614.29 243.45v-2M614.29 18.45v2M623.12 243.45v-2M623.12 18.45v2M640.78 243.45v-2M640.78 18.45v2M649.61 243.45v-2M649.61 18.45v2M658.44 243.45v-2M658.44 18.45v2M667.27 243.45v-2M667.27 18.45v2M684.93 243.45v-2M684.93 18.45v2M693.76 243.45v-2M693.76 18.45v2M702.59 243.45v-2M702.59 18.45v2M711.42 243.45v-2M711.42 18.45v2M729.08 243.45v-2M729.08 18.45v2M737.91 243.45v-2M737.91 18.45v2M746.74 243.45v-2M746.74 18.45v2M755.57 243.45v-2M755.57 18.45v2M773.23 243.45v-2M773.23 18.45v2M782.06 243.45v-2M782.06 18.45v2M790.89 243.45v-2M790.89 18.45v2M799.72 243.45v-2M799.72 18.45v2" stroke="#141414" stroke-width="0.8" fill="none"/>
<path d="M499.5 178.74h4M808.55 178.74h-4M499.5 114.03h4M808.55 114.03h-4M499.5 49.32h4M808.55 49.32h-4" stroke="#141414" stroke-width="0.8" fill="none"/>
<path d="M499.5 223.97h2M808.55 223.97h-2M499.5 204.49h2M808.55 204.49h-2M499.5 193.1h2M808.55 193.1h-2M499.5 185.01h2M808.55 185.01h-2M499.5 159.26h2M808.55 159.26h-2M499.5 139.78h2M808.55 139.78h-2M499.5 128.39h2M808.55 128.39h-2M499.5 120.3h2M808.55 120.3h-2M499.5 94.55h2M808.55 94.55h-2M499.5 75.07h2M808.55 75.07h-2M499.5 63.68h2M808.55 63.68h-2M499.5 55.59h2M808.55 55.59h-2M499.5 29.84h2M808.55 29.84h-2" stroke="#141414" stroke-width="0.8" fill="none"/>
<text x="502.2" y="259.4" font-size="15.8" text-anchor="middle" letter-spacing="0.15" >0.1</text>
<text x="546.35" y="259.4" font-size="15.8" text-anchor="middle" letter-spacing="0.15" >0.2</text>
<text x="590.5" y="259.4" font-size="15.8" text-anchor="middle" letter-spacing="0.15" >0.3</text>
<text x="634.65" y="259.4" font-size="15.8" text-anchor="middle" letter-spacing="0.15" >0.4</text>
<text x="678.8" y="259.4" font-size="15.8" text-anchor="middle" letter-spacing="0.15" >0.5</text>
<text x="722.95" y="259.4" font-size="15.8" text-anchor="middle" letter-spacing="0.15" >0.6</text>
<text x="767.1" y="259.4" font-size="15.8" text-anchor="middle" letter-spacing="0.15" >0.7</text>
<text x="811.25" y="259.4" font-size="15.8" text-anchor="middle" letter-spacing="0.15" >0.8</text>
<text x="492.6" y="248" font-size="15.8" text-anchor="end" letter-spacing="0.15" >1</text>
<text x="492.6" y="183.29" font-size="15.8" text-anchor="end" letter-spacing="0.15" >10</text>
<text x="492.2" y="112.38" font-size="11" text-anchor="end" >2</text>
<text x="486.4" y="118.58" font-size="15.8" text-anchor="end" letter-spacing="0.15" >10</text>
<text x="492.2" y="47.67" font-size="11" text-anchor="end" >3</text>
<text x="486.4" y="53.87" font-size="15.8" text-anchor="end" letter-spacing="0.15" >10</text>
<text x="753.2" y="164.5" font-size="15.8" text-anchor="end" letter-spacing="0.15" >0.65</text>
<path d="M709.5 159.1h10.2M709.5 162.3h10.2" stroke="#262626" stroke-width="0.85" fill="none"/>
<g transform="translate(694.1 164.5) scale(1.0)" stroke="#262626" fill="none" stroke-linecap="round"><path d="M0.9 -10.05H10.7M0.9 -10.05L0.15 -7.0M10.7 -10.05L10.2 -6.8M1.3 -0.3H6.6" stroke-width="0.75"/><path d="M6.15 -10L4.15 -0.4" stroke-width="1.3" stroke-linecap="butt"/></g>
<path d="M759.5 161.1H792.7M759.5 159.5v3.2M792.7 159.5v3.2" stroke="#4fa9a0" stroke-width="0.7" fill="none" opacity="0.8"/>
<rect x="773.4" y="158.6" width="5" height="5" fill="none" stroke="#4fa9a0" stroke-width="0.8"/><circle cx="775.9" cy="161.1" r="0.45" fill="#4fa9a0"/>
<text x="753.2" y="181.9" font-size="15.8" text-anchor="end" letter-spacing="0.15" >1.37</text>
<path d="M709.5 176.5h10.2M709.5 179.7h10.2" stroke="#262626" stroke-width="0.85" fill="none"/>
<g transform="translate(694.1 181.9) scale(1.0)" stroke="#262626" fill="none" stroke-linecap="round"><path d="M0.9 -10.05H10.7M0.9 -10.05L0.15 -7.0M10.7 -10.05L10.2 -6.8M1.3 -0.3H6.6" stroke-width="0.75"/><path d="M6.15 -10L4.15 -0.4" stroke-width="1.3" stroke-linecap="butt"/></g>
<path d="M759.5 178.5H792.7M759.5 176.9v3.2M792.7 176.9v3.2" stroke="#1f2d66" stroke-width="0.7" fill="none" opacity="0.8"/>
<rect x="773.3" y="175.9" width="5.2" height="5.2" fill="#1f2d66"/>
<text x="753.2" y="198.8" font-size="15.8" text-anchor="end" letter-spacing="0.15" >2.3</text>
<path d="M717.6 193.4h10.2M717.6 196.6h10.2" stroke="#262626" stroke-width="0.85" fill="none"/>
<g transform="translate(702.2 198.8) scale(1.0)" stroke="#262626" fill="none" stroke-linecap="round"><path d="M0.9 -10.05H10.7M0.9 -10.05L0.15 -7.0M10.7 -10.05L10.2 -6.8M1.3 -0.3H6.6" stroke-width="0.75"/><path d="M6.15 -10L4.15 -0.4" stroke-width="1.3" stroke-linecap="butt"/></g>
<path d="M759.5 195.4H792.7M759.5 193.8v3.2M792.7 193.8v3.2" stroke="#8e4b92" stroke-width="0.7" fill="none" opacity="0.8"/>
<circle cx="775.9" cy="195.4" r="2.6" fill="none" stroke="#8e4b92" stroke-width="0.8"/><circle cx="775.9" cy="195.4" r="0.45" fill="#8e4b92"/>
<text x="753.2" y="215.7" font-size="15.8" text-anchor="end" letter-spacing="0.15" >3.5</text>
<path d="M717.6 210.3h10.2M717.6 213.5h10.2" stroke="#262626" stroke-width="0.85" fill="none"/>
<g transform="translate(702.2 215.7) scale(1.0)" stroke="#262626" fill="none" stroke-linecap="round"><path d="M0.9 -10.05H10.7M0.9 -10.05L0.15 -7.0M10.7 -10.05L10.2 -6.8M1.3 -0.3H6.6" stroke-width="0.75"/><path d="M6.15 -10L4.15 -0.4" stroke-width="1.3" stroke-linecap="butt"/></g>
<path d="M759.5 212.3H792.7M759.5 210.7v3.2M792.7 210.7v3.2" stroke="#6a7a00" stroke-width="0.7" fill="none" opacity="0.8"/>
<circle cx="775.9" cy="212.3" r="2.8" fill="#6a7a00"/>
<text x="753.2" y="232.5" font-size="15.8" text-anchor="end" letter-spacing="0.15" >4.5</text>
<path d="M717.6 227.1h10.2M717.6 230.3h10.2" stroke="#262626" stroke-width="0.85" fill="none"/>
<g transform="translate(702.2 232.5) scale(1.0)" stroke="#262626" fill="none" stroke-linecap="round"><path d="M0.9 -10.05H10.7M0.9 -10.05L0.15 -7.0M10.7 -10.05L10.2 -6.8M1.3 -0.3H6.6" stroke-width="0.75"/><path d="M6.15 -10L4.15 -0.4" stroke-width="1.3" stroke-linecap="butt"/></g>
<path d="M759.5 229.1H792.7M759.5 227.5v3.2M792.7 227.5v3.2" stroke="#5e3f66" stroke-width="0.7" fill="none" opacity="0.8"/>
<path d="M775.9 226.5L778.5 230.71H773.3Z" fill="none" stroke="#5e3f66" stroke-width="0.8"/><circle cx="775.9" cy="229.1" r="0.45" fill="#5e3f66"/>
<text x="512.8" y="228" font-size="17.5" text-anchor="start" >(</text>
<text x="519.4" y="228" font-size="15.8" text-anchor="start" >b</text>
<text x="527.4" y="228" font-size="17.5" text-anchor="start" >)</text>
<path d="M92.2 505.1 L103.8 475.8 L111.6 457.7 L127.2 425 L138.5 404.4 L147.8 390 L165.4 368.3 L180.8 355.3 L196.4 347 L219.7 337.1 L258 327 L312.1 318.2 L389.7 311.7" stroke="#f0605a" stroke-width="0.7" fill="none" stroke-dasharray="2.1 1.2" opacity="1"/>
<rect x="89.7" y="502.6" width="5" height="5" fill="none" stroke="#f0605a" stroke-width="0.8"/><circle cx="92.2" cy="505.1" r="0.45" fill="#f0605a"/><rect x="101.3" y="473.3" width="5" height="5" fill="none" stroke="#f0605a" stroke-width="0.8"/><circle cx="103.8" cy="475.8" r="0.45" fill="#f0605a"/><rect x="109.1" y="455.2" width="5" height="5" fill="none" stroke="#f0605a" stroke-width="0.8"/><circle cx="111.6" cy="457.7" r="0.45" fill="#f0605a"/><rect x="124.7" y="422.5" width="5" height="5" fill="none" stroke="#f0605a" stroke-width="0.8"/><circle cx="127.2" cy="425" r="0.45" fill="#f0605a"/><rect x="136" y="401.9" width="5" height="5" fill="none" stroke="#f0605a" stroke-width="0.8"/><circle cx="138.5" cy="404.4" r="0.45" fill="#f0605a"/><rect x="145.3" y="387.5" width="5" height="5" fill="none" stroke="#f0605a" stroke-width="0.8"/><circle cx="147.8" cy="390" r="0.45" fill="#f0605a"/><rect x="162.9" y="365.8" width="5" height="5" fill="none" stroke="#f0605a" stroke-width="0.8"/><circle cx="165.4" cy="368.3" r="0.45" fill="#f0605a"/><rect x="178.3" y="352.8" width="5" height="5" fill="none" stroke="#f0605a" stroke-width="0.8"/><circle cx="180.8" cy="355.3" r="0.45" fill="#f0605a"/><rect x="193.9" y="344.5" width="5" height="5" fill="none" stroke="#f0605a" stroke-width="0.8"/><circle cx="196.4" cy="347" r="0.45" fill="#f0605a"/><rect x="217.2" y="334.6" width="5" height="5" fill="none" stroke="#f0605a" stroke-width="0.8"/><circle cx="219.7" cy="337.1" r="0.45" fill="#f0605a"/><rect x="255.5" y="324.5" width="5" height="5" fill="none" stroke="#f0605a" stroke-width="0.8"/><circle cx="258" cy="327" r="0.45" fill="#f0605a"/><rect x="309.6" y="315.7" width="5" height="5" fill="none" stroke="#f0605a" stroke-width="0.8"/><circle cx="312.1" cy="318.2" r="0.45" fill="#f0605a"/><rect x="387.2" y="309.2" width="5" height="5" fill="none" stroke="#f0605a" stroke-width="0.8"/><circle cx="389.7" cy="311.7" r="0.45" fill="#f0605a"/>
<rect x="80.55" y="302.45" width="309.15" height="224.9" fill="none" stroke="#141414" stroke-width="1"/>
<path d="M119.19 527.35v-4M119.19 302.45v4M157.84 527.35v-4M157.84 302.45v4M196.48 527.35v-4M196.48 302.45v4M235.12 527.35v-4M235.12 302.45v4M273.77 527.35v-4M273.77 302.45v4M312.41 527.35v-4M312.41 302.45v4M351.06 527.35v-4M351.06 302.45v4" stroke="#141414" stroke-width="0.8" fill="none"/>
<path d="M88.28 527.35v-2M88.28 302.45v2M96.01 527.35v-2M96.01 302.45v2M103.74 527.35v-2M103.74 302.45v2M111.47 527.35v-2M111.47 302.45v2M126.92 527.35v-2M126.92 302.45v2M134.65 527.35v-2M134.65 302.45v2M142.38 527.35v-2M142.38 302.45v2M150.11 527.35v-2M150.11 302.45v2M165.57 527.35v-2M165.57 302.45v2M173.29 527.35v-2M173.29 302.45v2M181.02 527.35v-2M181.02 302.45v2M188.75 527.35v-2M188.75 302.45v2M204.21 527.35v-2M204.21 302.45v2M211.94 527.35v-2M211.94 302.45v2M219.67 527.35v-2M219.67 302.45v2M227.4 527.35v-2M227.4 302.45v2M242.85 527.35v-2M242.85 302.45v2M250.58 527.35v-2M250.58 302.45v2M258.31 527.35v-2M258.31 302.45v2M266.04 527.35v-2M266.04 302.45v2M281.5 527.35v-2M281.5 302.45v2M289.23 527.35v-2M289.23 302.45v2M296.95 527.35v-2M296.95 302.45v2M304.68 527.35v-2M304.68 302.45v2M320.14 527.35v-2M320.14 302.45v2M327.87 527.35v-2M327.87 302.45v2M335.6 527.35v-2M335.6 302.45v2M343.33 527.35v-2M343.33 302.45v2M358.79 527.35v-2M358.79 302.45v2M366.51 527.35v-2M366.51 302.45v2M374.24 527.35v-2M374.24 302.45v2M381.97 527.35v-2M381.97 302.45v2" stroke="#141414" stroke-width="0.8" fill="none"/>
<path d="M80.55 327.44h4M389.7 327.44h-4M80.55 352.43h4M389.7 352.43h-4M80.55 377.42h4M389.7 377.42h-4M80.55 402.41h4M389.7 402.41h-4M80.55 427.39h4M389.7 427.39h-4M80.55 452.38h4M389.7 452.38h-4M80.55 477.37h4M389.7 477.37h-4M80.55 502.36h4M389.7 502.36h-4" stroke="#141414" stroke-width="0.8" fill="none"/>
<path d="M80.55 307.45h2M389.7 307.45h-2M80.55 312.45h2M389.7 312.45h-2M80.55 317.44h2M389.7 317.44h-2M80.55 322.44h2M389.7 322.44h-2M80.55 332.44h2M389.7 332.44h-2M80.55 337.43h2M389.7 337.43h-2M80.55 342.43h2M389.7 342.43h-2M80.55 347.43h2M389.7 347.43h-2M80.55 357.43h2M389.7 357.43h-2M80.55 362.42h2M389.7 362.42h-2M80.55 367.42h2M389.7 367.42h-2M80.55 372.42h2M389.7 372.42h-2M80.55 382.41h2M389.7 382.41h-2M80.55 387.41h2M389.7 387.41h-2M80.55 392.41h2M389.7 392.41h-2M80.55 397.41h2M389.7 397.41h-2M80.55 407.4h2M389.7 407.4h-2M80.55 412.4h2M389.7 412.4h-2M80.55 417.4h2M389.7 417.4h-2M80.55 422.4h2M389.7 422.4h-2M80.55 432.39h2M389.7 432.39h-2M80.55 437.39h2M389.7 437.39h-2M80.55 442.39h2M389.7 442.39h-2M80.55 447.39h2M389.7 447.39h-2M80.55 457.38h2M389.7 457.38h-2M80.55 462.38h2M389.7 462.38h-2M80.55 467.38h2M389.7 467.38h-2M80.55 472.37h2M389.7 472.37h-2M80.55 482.37h2M389.7 482.37h-2M80.55 487.37h2M389.7 487.37h-2M80.55 492.37h2M389.7 492.37h-2M80.55 497.36h2M389.7 497.36h-2M80.55 507.36h2M389.7 507.36h-2M80.55 512.36h2M389.7 512.36h-2M80.55 517.35h2M389.7 517.35h-2M80.55 522.35h2M389.7 522.35h-2" stroke="#141414" stroke-width="0.8" fill="none"/>
<text x="83.25" y="543.1" font-size="15.8" text-anchor="middle" letter-spacing="0.15" >0.5</text>
<text x="121.89" y="543.1" font-size="15.8" text-anchor="middle" letter-spacing="0.15" >1</text>
<text x="160.54" y="543.1" font-size="15.8" text-anchor="middle" letter-spacing="0.15" >1.5</text>
<text x="199.18" y="543.1" font-size="15.8" text-anchor="middle" letter-spacing="0.15" >2</text>
<text x="237.82" y="543.1" font-size="15.8" text-anchor="middle" letter-spacing="0.15" >2.5</text>
<text x="276.47" y="543.1" font-size="15.8" text-anchor="middle" letter-spacing="0.15" >3</text>
<text x="315.11" y="543.1" font-size="15.8" text-anchor="middle" letter-spacing="0.15" >3.5</text>
<text x="353.76" y="543.1" font-size="15.8" text-anchor="middle" letter-spacing="0.15" >4</text>
<text x="392.4" y="543.1" font-size="15.8" text-anchor="middle" letter-spacing="0.15" >4.5</text>
<text x="73.4" y="307" font-size="15.8" text-anchor="end" letter-spacing="0.15" >0.6</text>
<text x="73.4" y="331.99" font-size="15.8" text-anchor="end" letter-spacing="0.15" >0.55</text>
<text x="73.4" y="356.98" font-size="15.8" text-anchor="end" letter-spacing="0.15" >0.5</text>
<text x="73.4" y="381.97" font-size="15.8" text-anchor="end" letter-spacing="0.15" >0.45</text>
<text x="73.4" y="406.96" font-size="15.8" text-anchor="end" letter-spacing="0.15" >0.4</text>
<text x="73.4" y="431.94" font-size="15.8" text-anchor="end" letter-spacing="0.15" >0.35</text>
<text x="73.4" y="456.93" font-size="15.8" text-anchor="end" letter-spacing="0.15" >0.3</text>
<text x="73.4" y="481.92" font-size="15.8" text-anchor="end" letter-spacing="0.15" >0.25</text>
<text x="73.4" y="506.91" font-size="15.8" text-anchor="end" letter-spacing="0.15" >0.2</text>
<text x="73.4" y="531.9" font-size="15.8" text-anchor="end" letter-spacing="0.15" >0.15</text>
<text x="357.3" y="510.9" font-size="17.5" text-anchor="start" >(</text>
<text x="363.7" y="510.9" font-size="15.8" text-anchor="start" >c</text>
<text x="370.4" y="510.9" font-size="17.5" text-anchor="start" >)</text>
<path d="M518.1 451.6V455.6M516.5 451.6h3.2M516.5 455.6h3.2M529.5 442.6V448.6M527.9 442.6h3.2M527.9 448.6h3.2M537.2 432V438M535.6 432h3.2M535.6 438h3.2M552.1 409V415M550.5 409h3.2M550.5 415h3.2M563.4 396.4V403.4M561.8 396.4h3.2M561.8 403.4h3.2M572.3 391.2V399.2M570.7 391.2h3.2M570.7 399.2h3.2M589.9 395.4V401.4M588.3 395.4h3.2M588.3 401.4h3.2M604.7 400.2V408.2M603.1 400.2h3.2M603.1 408.2h3.2M619.9 408.9V415.9M618.3 408.9h3.2M618.3 415.9h3.2M642.5 418.3V426.3M640.9 418.3h3.2M640.9 426.3h3.2M680.4 434.4V441.4M678.8 434.4h3.2M678.8 441.4h3.2M732.9 449.1V458.1M731.3 449.1h3.2M731.3 458.1h3.2M808.4 467.7V474.7M806.8 467.7h3.2M806.8 474.7h3.2" stroke="#b5403f" stroke-width="0.8" fill="none" opacity="0.9"/>
<path d="M518.1 453.6 L529.5 445.6 L537.2 435 L552.1 412 L563.4 399.9 L572.3 395.2 L589.9 398.4 L604.7 404.2 L619.9 412.4 L642.5 422.3 L680.4 437.9 L732.9 453.6 L808.4 471.2" stroke="#b5403f" stroke-width="0.7" fill="none" opacity="1"/>
<path d="M518.1 451L520.7 455.21H515.5Z" fill="none" stroke="#b5403f" stroke-width="0.8"/><circle cx="518.1" cy="453.6" r="0.45" fill="#b5403f"/><path d="M529.5 443L532.1 447.21H526.9Z" fill="none" stroke="#b5403f" stroke-width="0.8"/><circle cx="529.5" cy="445.6" r="0.45" fill="#b5403f"/><path d="M537.2 432.4L539.8 436.61H534.6Z" fill="none" stroke="#b5403f" stroke-width="0.8"/><circle cx="537.2" cy="435" r="0.45" fill="#b5403f"/><path d="M552.1 409.4L554.7 413.61H549.5Z" fill="none" stroke="#b5403f" stroke-width="0.8"/><circle cx="552.1" cy="412" r="0.45" fill="#b5403f"/><path d="M563.4 397.3L566 401.51H560.8Z" fill="none" stroke="#b5403f" stroke-width="0.8"/><circle cx="563.4" cy="399.9" r="0.45" fill="#b5403f"/><path d="M572.3 392.6L574.9 396.81H569.7Z" fill="none" stroke="#b5403f" stroke-width="0.8"/><circle cx="572.3" cy="395.2" r="0.45" fill="#b5403f"/><path d="M589.9 395.8L592.5 400.01H587.3Z" fill="none" stroke="#b5403f" stroke-width="0.8"/><circle cx="589.9" cy="398.4" r="0.45" fill="#b5403f"/><path d="M604.7 401.6L607.3 405.81H602.1Z" fill="none" stroke="#b5403f" stroke-width="0.8"/><circle cx="604.7" cy="404.2" r="0.45" fill="#b5403f"/><path d="M619.9 409.8L622.5 414.01H617.3Z" fill="none" stroke="#b5403f" stroke-width="0.8"/><circle cx="619.9" cy="412.4" r="0.45" fill="#b5403f"/><path d="M642.5 419.7L645.1 423.91H639.9Z" fill="none" stroke="#b5403f" stroke-width="0.8"/><circle cx="642.5" cy="422.3" r="0.45" fill="#b5403f"/><path d="M680.4 435.3L683 439.51H677.8Z" fill="none" stroke="#b5403f" stroke-width="0.8"/><circle cx="680.4" cy="437.9" r="0.45" fill="#b5403f"/><path d="M732.9 451L735.5 455.21H730.3Z" fill="none" stroke="#b5403f" stroke-width="0.8"/><circle cx="732.9" cy="453.6" r="0.45" fill="#b5403f"/><path d="M808.4 468.6L811 472.81H805.8Z" fill="none" stroke="#b5403f" stroke-width="0.8"/><circle cx="808.4" cy="471.2" r="0.45" fill="#b5403f"/>
<path d="M518.1 373.5V379.5M516.5 373.5h3.2M516.5 379.5h3.2M529.5 387.1V393.1M527.9 387.1h3.2M527.9 393.1h3.2M537.2 387.5V393.5M535.6 387.5h3.2M535.6 393.5h3.2M552.1 377.5V385.5M550.5 377.5h3.2M550.5 385.5h3.2M563.4 368.7V375.7M561.8 368.7h3.2M561.8 375.7h3.2M572.3 364.1V372.1M570.7 364.1h3.2M570.7 372.1h3.2M589.9 364.1V372.1M588.3 364.1h3.2M588.3 372.1h3.2M604.7 364.1V373.1M603.1 364.1h3.2M603.1 373.1h3.2M619.9 366V375M618.3 366h3.2M618.3 375h3.2M642.5 368.6V377.6M640.9 368.6h3.2M640.9 377.6h3.2M680.4 372.6V379.6M678.8 372.6h3.2M678.8 379.6h3.2M732.9 375.3V381.3M731.3 375.3h3.2M731.3 381.3h3.2M808.4 376.8V382.8M806.8 376.8h3.2M806.8 382.8h3.2" stroke="#00a01a" stroke-width="0.8" fill="none" opacity="0.8"/>
<path d="M518.1 376.5 L529.5 390.1 L537.2 390.5 L552.1 381.5 L563.4 372.2 L572.3 368.1 L589.9 368.1 L604.7 368.6 L619.9 370.5 L642.5 373.1 L680.4 376.1 L732.9 378.3 L808.4 379.8" stroke="#00a01a" stroke-width="0.6" fill="none" stroke-dasharray="3 1.6" opacity="0.85"/>
<path d="M518.1 373.85L520.75 378.14H515.45Z" fill="#00a01a"/><path d="M529.5 387.45L532.15 391.74H526.85Z" fill="#00a01a"/><path d="M537.2 387.85L539.85 392.14H534.55Z" fill="#00a01a"/><path d="M552.1 378.85L554.75 383.14H549.45Z" fill="#00a01a"/><path d="M563.4 369.55L566.05 373.84H560.75Z" fill="#00a01a"/><path d="M572.3 365.45L574.95 369.74H569.65Z" fill="#00a01a"/><path d="M589.9 365.45L592.55 369.74H587.25Z" fill="#00a01a"/><path d="M604.7 365.95L607.35 370.24H602.05Z" fill="#00a01a"/><path d="M619.9 367.85L622.55 372.14H617.25Z" fill="#00a01a"/><path d="M642.5 370.45L645.15 374.74H639.85Z" fill="#00a01a"/><path d="M680.4 373.45L683.05 377.74H677.75Z" fill="#00a01a"/><path d="M732.9 375.65L735.55 379.94H730.25Z" fill="#00a01a"/><path d="M808.4 377.15L811.05 381.44H805.75Z" fill="#00a01a"/>
<path d="M518.1 410.6V418M516.5 410.6h3.2M516.5 418h3.2M529.5 402V410M527.9 402h3.2M527.9 410h3.2M537.2 388.3V399.5M535.6 388.3h3.2M535.6 399.5h3.2M552.1 367.9V374.9M550.5 367.9h3.2M550.5 374.9h3.2M563.4 358.4V365.4M561.8 358.4h3.2M561.8 365.4h3.2M572.3 355.4V362.4M570.7 355.4h3.2M570.7 362.4h3.2M589.9 356.3V363.3M588.3 356.3h3.2M588.3 363.3h3.2M604.7 357.4V366M603.1 357.4h3.2M603.1 366h3.2M619.9 360.6V369.2M618.3 360.6h3.2M618.3 369.2h3.2M642.5 362.5V372.1M640.9 362.5h3.2M640.9 372.1h3.2M680.4 366.6V373.6M678.8 366.6h3.2M678.8 373.6h3.2M732.9 368.8V375.8M731.3 368.8h3.2M731.3 375.8h3.2M808.4 370.9V377.9M806.8 370.9h3.2M806.8 377.9h3.2" stroke="#3636c4" stroke-width="0.8" fill="none" opacity="0.85"/>
<path d="M518.1 414.3 L529.5 406 L537.2 393.9 L552.1 371.4 L563.4 361.9 L572.3 358.9 L589.9 359.8 L604.7 361.7 L619.9 364.9 L642.5 367.3 L680.4 370.1 L732.9 372.3 L808.4 374.4" stroke="#3636c4" stroke-width="0.7" fill="none" stroke-dasharray="1.2 1.9" opacity="0.9"/>
<circle cx="518.1" cy="414.3" r="2.6" fill="none" stroke="#3636c4" stroke-width="0.8"/><circle cx="518.1" cy="414.3" r="0.45" fill="#3636c4"/><circle cx="529.5" cy="406" r="2.6" fill="none" stroke="#3636c4" stroke-width="0.8"/><circle cx="529.5" cy="406" r="0.45" fill="#3636c4"/><circle cx="537.2" cy="393.9" r="2.6" fill="none" stroke="#3636c4" stroke-width="0.8"/><circle cx="537.2" cy="393.9" r="0.45" fill="#3636c4"/><circle cx="552.1" cy="371.4" r="2.6" fill="none" stroke="#3636c4" stroke-width="0.8"/><circle cx="552.1" cy="371.4" r="0.45" fill="#3636c4"/><circle cx="563.4" cy="361.9" r="2.6" fill="none" stroke="#3636c4" stroke-width="0.8"/><circle cx="563.4" cy="361.9" r="0.45" fill="#3636c4"/><circle cx="572.3" cy="358.9" r="2.6" fill="none" stroke="#3636c4" stroke-width="0.8"/><circle cx="572.3" cy="358.9" r="0.45" fill="#3636c4"/><circle cx="589.9" cy="359.8" r="2.6" fill="none" stroke="#3636c4" stroke-width="0.8"/><circle cx="589.9" cy="359.8" r="0.45" fill="#3636c4"/><circle cx="604.7" cy="361.7" r="2.6" fill="none" stroke="#3636c4" stroke-width="0.8"/><circle cx="604.7" cy="361.7" r="0.45" fill="#3636c4"/><circle cx="619.9" cy="364.9" r="2.6" fill="none" stroke="#3636c4" stroke-width="0.8"/><circle cx="619.9" cy="364.9" r="0.45" fill="#3636c4"/><circle cx="642.5" cy="367.3" r="2.6" fill="none" stroke="#3636c4" stroke-width="0.8"/><circle cx="642.5" cy="367.3" r="0.45" fill="#3636c4"/><circle cx="680.4" cy="370.1" r="2.6" fill="none" stroke="#3636c4" stroke-width="0.8"/><circle cx="680.4" cy="370.1" r="0.45" fill="#3636c4"/><circle cx="732.9" cy="372.3" r="2.6" fill="none" stroke="#3636c4" stroke-width="0.8"/><circle cx="732.9" cy="372.3" r="0.45" fill="#3636c4"/><circle cx="808.4" cy="374.4" r="2.6" fill="none" stroke="#3636c4" stroke-width="0.8"/><circle cx="808.4" cy="374.4" r="0.45" fill="#3636c4"/>
<path d="M518.1 457.6V464.6M516.5 457.6h3.2M516.5 464.6h3.2M529.5 449.2V456.2M527.9 449.2h3.2M527.9 456.2h3.2M537.2 437.8V445.8M535.6 437.8h3.2M535.6 445.8h3.2M552.1 413.7V419.7M550.5 413.7h3.2M550.5 419.7h3.2M563.4 399.7V405.7M561.8 399.7h3.2M561.8 405.7h3.2M572.3 393.9V399.9M570.7 393.9h3.2M570.7 399.9h3.2M589.9 395.4V401.4M588.3 395.4h3.2M588.3 401.4h3.2M604.7 398.4V404.4M603.1 398.4h3.2M603.1 404.4h3.2M619.9 404.3V410.3M618.3 404.3h3.2M618.3 410.3h3.2M642.5 410.4V417.4M640.9 410.4h3.2M640.9 417.4h3.2M680.4 419V425M678.8 419h3.2M678.8 425h3.2M732.9 424.9V432.9M731.3 424.9h3.2M731.3 432.9h3.2M808.4 431.9V437.9M806.8 431.9h3.2M806.8 437.9h3.2" stroke="#6a7a00" stroke-width="0.8" fill="none" opacity="0.62"/>
<path d="M518.1 461.1 L529.5 452.7 L537.2 441.8 L552.1 416.7 L563.4 402.7 L572.3 396.9 L589.9 398.4 L604.7 401.4 L619.9 407.3 L642.5 413.9 L680.4 422 L732.9 428.9 L808.4 434.9" stroke="#6a7a00" stroke-width="0.5" fill="none" opacity="0.45"/>
<circle cx="518.1" cy="461.1" r="2.8" fill="#6a7a00"/><circle cx="529.5" cy="452.7" r="2.8" fill="#6a7a00"/><circle cx="537.2" cy="441.8" r="2.8" fill="#6a7a00"/><circle cx="552.1" cy="416.7" r="2.8" fill="#6a7a00"/><circle cx="563.4" cy="402.7" r="2.8" fill="#6a7a00"/><circle cx="572.3" cy="396.9" r="2.8" fill="#6a7a00"/><circle cx="589.9" cy="398.4" r="2.8" fill="#6a7a00"/><circle cx="604.7" cy="401.4" r="2.8" fill="#6a7a00"/><circle cx="619.9" cy="407.3" r="2.8" fill="#6a7a00"/><circle cx="642.5" cy="413.9" r="2.8" fill="#6a7a00"/><circle cx="680.4" cy="422" r="2.8" fill="#6a7a00"/><circle cx="732.9" cy="428.9" r="2.8" fill="#6a7a00"/><circle cx="808.4" cy="434.9" r="2.8" fill="#6a7a00"/>
<rect x="506.6" y="302.45" width="301.95" height="224.9" fill="none" stroke="#141414" stroke-width="1"/>
<path d="M544.34 527.35v-4M544.34 302.45v4M582.09 527.35v-4M582.09 302.45v4M619.83 527.35v-4M619.83 302.45v4M657.58 527.35v-4M657.58 302.45v4M695.32 527.35v-4M695.32 302.45v4M733.06 527.35v-4M733.06 302.45v4M770.81 527.35v-4M770.81 302.45v4" stroke="#141414" stroke-width="0.8" fill="none"/>
<path d="M514.15 527.35v-2M514.15 302.45v2M521.7 527.35v-2M521.7 302.45v2M529.25 527.35v-2M529.25 302.45v2M536.8 527.35v-2M536.8 302.45v2M551.89 527.35v-2M551.89 302.45v2M559.44 527.35v-2M559.44 302.45v2M566.99 527.35v-2M566.99 302.45v2M574.54 527.35v-2M574.54 302.45v2M589.64 527.35v-2M589.64 302.45v2M597.18 527.35v-2M597.18 302.45v2M604.73 527.35v-2M604.73 302.45v2M612.28 527.35v-2M612.28 302.45v2M627.38 527.35v-2M627.38 302.45v2M634.93 527.35v-2M634.93 302.45v2M642.48 527.35v-2M642.48 302.45v2M650.03 527.35v-2M650.03 302.45v2M665.12 527.35v-2M665.12 302.45v2M672.67 527.35v-2M672.67 302.45v2M680.22 527.35v-2M680.22 302.45v2M687.77 527.35v-2M687.77 302.45v2M702.87 527.35v-2M702.87 302.45v2M710.42 527.35v-2M710.42 302.45v2M717.96 527.35v-2M717.96 302.45v2M725.51 527.35v-2M725.51 302.45v2M740.61 527.35v-2M740.61 302.45v2M748.16 527.35v-2M748.16 302.45v2M755.71 527.35v-2M755.71 302.45v2M763.26 527.35v-2M763.26 302.45v2M778.36 527.35v-2M778.36 302.45v2M785.9 527.35v-2M785.9 302.45v2M793.45 527.35v-2M793.45 302.45v2M801 527.35v-2M801 302.45v2" stroke="#141414" stroke-width="0.8" fill="none"/>
<path d="M506.6 452.38h4M808.55 452.38h-4M506.6 377.42h4M808.55 377.42h-4" stroke="#141414" stroke-width="0.8" fill="none"/>
<path d="M506.6 504.78h2M808.55 504.78h-2M506.6 482.22h2M808.55 482.22h-2M506.6 469.01h2M808.55 469.01h-2M506.6 459.65h2M808.55 459.65h-2M506.6 429.82h2M808.55 429.82h-2M506.6 407.25h2M808.55 407.25h-2M506.6 394.05h2M808.55 394.05h-2M506.6 384.68h2M808.55 384.68h-2M506.6 354.85h2M808.55 354.85h-2M506.6 332.28h2M808.55 332.28h-2M506.6 319.08h2M808.55 319.08h-2M506.6 309.72h2M808.55 309.72h-2" stroke="#141414" stroke-width="0.8" fill="none"/>
<text x="509.3" y="543.1" font-size="15.8" text-anchor="middle" letter-spacing="0.15" >0.5</text>
<text x="547.04" y="543.1" font-size="15.8" text-anchor="middle" letter-spacing="0.15" >1</text>
<text x="584.79" y="543.1" font-size="15.8" text-anchor="middle" letter-spacing="0.15" >1.5</text>
<text x="622.53" y="543.1" font-size="15.8" text-anchor="middle" letter-spacing="0.15" >2</text>
<text x="660.28" y="543.1" font-size="15.8" text-anchor="middle" letter-spacing="0.15" >2.5</text>
<text x="698.02" y="543.1" font-size="15.8" text-anchor="middle" letter-spacing="0.15" >3</text>
<text x="735.76" y="543.1" font-size="15.8" text-anchor="middle" letter-spacing="0.15" >3.5</text>
<text x="773.51" y="543.1" font-size="15.8" text-anchor="middle" letter-spacing="0.15" >4</text>
<text x="811.25" y="543.1" font-size="15.8" text-anchor="middle" letter-spacing="0.15" >4.5</text>
<text x="499.8" y="531.9" font-size="15.8" text-anchor="end" letter-spacing="0.15" >10</text>
<text x="499.4" y="450.73" font-size="11" text-anchor="end" >2</text>
<text x="493.6" y="456.93" font-size="15.8" text-anchor="end" letter-spacing="0.15" >10</text>
<text x="499.4" y="375.77" font-size="11" text-anchor="end" >3</text>
<text x="493.6" y="381.97" font-size="15.8" text-anchor="end" letter-spacing="0.15" >10</text>
<text x="499.4" y="300.8" font-size="11" text-anchor="end" >4</text>
<text x="493.6" y="307" font-size="15.8" text-anchor="end" letter-spacing="0.15" >10</text>
<text x="776.9" y="508.5" font-size="17.5" text-anchor="start" >(</text>
<text x="783.4" y="508.5" font-size="15.8" text-anchor="start" >d</text>
<text x="791.5" y="508.5" font-size="17.5" text-anchor="start" >)</text>
<path d="M602.4 434.2H635.6M602.4 432.6v3.2M635.6 432.6v3.2" stroke="#b5403f" stroke-width="0.7" fill="none" opacity="0.8"/>
<path d="M619 431.6L621.6 435.81H616.4Z" fill="none" stroke="#b5403f" stroke-width="0.8"/><circle cx="619" cy="434.2" r="0.45" fill="#b5403f"/>
<path d="M602.4 458.4H635.6M602.4 456.8v3.2M635.6 456.8v3.2" stroke="#00a01a" stroke-width="0.7" fill="none" opacity="0.8"/>
<path d="M619 455.75L621.65 460.04H616.35Z" fill="#00a01a"/>
<path d="M602.4 482.2H635.6M602.4 480.6v3.2M635.6 480.6v3.2" stroke="#3636c4" stroke-width="0.7" fill="none" opacity="0.8"/>
<circle cx="619" cy="482.2" r="2.6" fill="none" stroke="#3636c4" stroke-width="0.8"/><circle cx="619" cy="482.2" r="0.45" fill="#3636c4"/>
<path d="M602.4 506.1H635.6M602.4 504.5v3.2M635.6 504.5v3.2" stroke="#6a7a00" stroke-width="0.7" fill="none" opacity="0.8"/>
<circle cx="619" cy="506.1" r="2.8" fill="#6a7a00"/>
<g transform="translate(26.8 172) rotate(-90)">
<g transform="translate(0 0)" stroke="#262626" fill="none" stroke-linecap="round"><path d="M0.35 -4.7C0.9 -6.0 1.5 -6.25 2.5 -6.25H6.35" stroke-width="1.0"/><path d="M3.85 -6.1C3.5 -4.2 3.0 -2.2 3.0 -0.9C3.0 -0.3 3.3 -0.2 3.6 -0.25" stroke-width="1.05"/></g>
<path d="M0.9 -9.5q1.25 -2.0 2.5 -0.6t2.5 -0.6" stroke="#262626" stroke-width="0.95" stroke-linecap="round" fill="none"/>
<text x="6.2" y="3" font-size="11.5" text-anchor="start" font-style="italic" textLength="8" lengthAdjust="spacingAndGlyphs" >E</text>
<text x="16.2" y="3" font-size="11.5" text-anchor="start" >,</text>
<text x="19.5" y="3" font-size="11.5" text-anchor="start" textLength="15.9" lengthAdjust="spacing" >bin</text>
<text x="35.6" y="0" font-size="17.5" text-anchor="start" >(</text>
<text x="42.8" y="0" font-size="15.8" text-anchor="start" font-style="italic" textLength="10.2" lengthAdjust="spacingAndGlyphs" >P</text>
<text x="52.6" y="2.9" font-size="11.5" text-anchor="start" textLength="20.6" lengthAdjust="spacing" >accp</text>
<text x="75.3" y="0" font-size="17.5" text-anchor="start" >)</text>
</g>
<g transform="translate(445.9 209.8) rotate(-90)">
<g transform="translate(0 0)" stroke="#262626" fill="none" stroke-linecap="round"><path d="M0.35 -4.7C0.9 -6.0 1.5 -6.25 2.5 -6.25H6.35" stroke-width="1.0"/><path d="M3.85 -6.1C3.5 -4.2 3.0 -2.2 3.0 -0.9C3.0 -0.3 3.3 -0.2 3.6 -0.25" stroke-width="1.05"/></g>
<path d="M0.9 -9.5q1.25 -2.0 2.5 -0.6t2.5 -0.6" stroke="#262626" stroke-width="0.95" stroke-linecap="round" fill="none"/>
<text x="6.2" y="3" font-size="11.5" text-anchor="start" font-style="italic" textLength="8" lengthAdjust="spacingAndGlyphs" >E</text>
<text x="16.2" y="3" font-size="11.5" text-anchor="start" >,</text>
<text x="19.5" y="3" font-size="11.5" text-anchor="start" textLength="15.9" lengthAdjust="spacing" >bin</text>
<text x="35.6" y="0" font-size="17.5" text-anchor="start" >(</text>
<text x="42.8" y="0" font-size="15.8" text-anchor="start" font-style="italic" textLength="10.2" lengthAdjust="spacingAndGlyphs" >P</text>
<text x="52.6" y="2.9" font-size="11.5" text-anchor="start" textLength="20.6" lengthAdjust="spacing" >accp</text>
<text x="75.3" y="0" font-size="17.5" text-anchor="start" >)</text>
<circle cx="87.2" cy="-3.9" r="0.95" fill="#262626"/>
<text x="93.8" y="0" font-size="15.8" text-anchor="start" font-style="italic" textLength="15" lengthAdjust="spacingAndGlyphs" >M</text>
<text x="111.8" y="0" font-size="17.5" text-anchor="start" >(</text>
<text x="119" y="0" font-size="15.8" text-anchor="start" font-style="italic" textLength="10.2" lengthAdjust="spacingAndGlyphs" >P</text>
<text x="128.8" y="2.9" font-size="11.5" text-anchor="start" textLength="20.6" lengthAdjust="spacing" >accp</text>
<text x="151.5" y="0" font-size="17.5" text-anchor="start" >)</text>
</g>
<g transform="translate(28.1 442.7) rotate(-90)">
<text x="0" y="0" font-size="15.8" text-anchor="start" font-style="italic" textLength="10.2" lengthAdjust="spacingAndGlyphs" >P</text>
<text x="11" y="-6" font-size="11.5" text-anchor="start" textLength="6.4" lengthAdjust="spacingAndGlyphs" >d</text>
<text x="10.2" y="3.7" font-size="11.5" text-anchor="start" textLength="19.8" lengthAdjust="spacing" >accp</text>
<text x="31" y="0" font-size="17.5" text-anchor="start" >(</text>
<g transform="translate(38 0) scale(1.0)" stroke="#262626" fill="none" stroke-linecap="round"><path d="M0.9 -10.05H10.7M0.9 -10.05L0.15 -7.0M10.7 -10.05L10.2 -6.8M1.3 -0.3H6.6" stroke-width="0.75"/><path d="M6.15 -10L4.15 -0.4" stroke-width="1.3" stroke-linecap="butt"/></g>
<text x="50.1" y="0" font-size="17.5" text-anchor="start" >)</text>
</g>
<g transform="translate(447.1 438) rotate(-90)">
<g transform="translate(0 0)" stroke="#262626" fill="none" stroke-linecap="round"><path d="M0.35 -4.7C0.9 -6.0 1.5 -6.25 2.5 -6.25H6.35" stroke-width="1.0"/><path d="M3.85 -6.1C3.5 -4.2 3.0 -2.2 3.0 -0.9C3.0 -0.3 3.3 -0.2 3.6 -0.25" stroke-width="1.05"/></g>
<path d="M0.9 -9.5q1.25 -2.0 2.5 -0.6t2.5 -0.6" stroke="#262626" stroke-width="0.95" stroke-linecap="round" fill="none"/>
<text x="6.8" y="-6.9" font-size="11.5" text-anchor="start" textLength="5.4" lengthAdjust="spacingAndGlyphs" >a</text>
<text x="6.2" y="4.1" font-size="11.5" text-anchor="start" textLength="16.4" lengthAdjust="spacing" >bin</text>
<text x="22.6" y="0" font-size="17.5" text-anchor="start" >(</text>
<g transform="translate(29.9 0) scale(1.0)" stroke="#262626" fill="none" stroke-linecap="round"><path d="M0.9 -10.05H10.7M0.9 -10.05L0.15 -7.0M10.7 -10.05L10.2 -6.8M1.3 -0.3H6.6" stroke-width="0.75"/><path d="M6.15 -10L4.15 -0.4" stroke-width="1.3" stroke-linecap="butt"/></g>
<text x="40.9" y="0" font-size="17.5" text-anchor="start" >)</text>
</g>
<text x="222.8" y="277.1" font-size="15.8" text-anchor="start" font-style="italic" textLength="10" lengthAdjust="spacingAndGlyphs" >P</text>
<text x="232.2" y="279.5" font-size="11.5" text-anchor="start" textLength="21.4" lengthAdjust="spacing" >accp</text>
<text x="638.6" y="277.1" font-size="15.8" text-anchor="start" font-style="italic" textLength="10" lengthAdjust="spacingAndGlyphs" >P</text>
<text x="648" y="279.5" font-size="11.5" text-anchor="start" textLength="21.4" lengthAdjust="spacing" >accp</text>
<g transform="translate(229.9 560.5) scale(1.0)" stroke="#262626" fill="none" stroke-linecap="round"><path d="M0.9 -10.05H10.7M0.9 -10.05L0.15 -7.0M10.7 -10.05L10.2 -6.8M1.3 -0.3H6.6" stroke-width="0.75"/><path d="M6.15 -10L4.15 -0.4" stroke-width="1.3" stroke-linecap="butt"/></g>
<g transform="translate(652.2 560.5) scale(1.0)" stroke="#262626" fill="none" stroke-linecap="round"><path d="M0.9 -10.05H10.7M0.9 -10.05L0.15 -7.0M10.7 -10.05L10.2 -6.8M1.3 -0.3H6.6" stroke-width="0.75"/><path d="M6.15 -10L4.15 -0.4" stroke-width="1.3" stroke-linecap="butt"/></g>
<text x="250.8" y="381" font-size="15.8" text-anchor="start" font-style="italic" textLength="7.4" lengthAdjust="spacingAndGlyphs" >d</text>
<path d="M263.9 375.9h10.2M263.9 379.1h10.2" stroke="#262626" stroke-width="0.85" fill="none"/>
<text x="279.8" y="381" font-size="15.8" text-anchor="start" letter-spacing="0.15" >0.3</text>
<text x="299.9" y="381" font-size="15.8" text-anchor="start" font-style="italic" textLength="6" lengthAdjust="spacingAndGlyphs" >r</text>
<text x="306.8" y="383.1" font-size="11.5" text-anchor="start" textLength="5.2" lengthAdjust="spacingAndGlyphs" >0</text>
<g transform="translate(559.1 436.5)" stroke="#262626" fill="none" stroke-linecap="round"><path d="M0.35 -4.7C0.9 -6.0 1.5 -6.25 2.5 -6.25H6.35" stroke-width="1.0"/><path d="M3.85 -6.1C3.5 -4.2 3.0 -2.2 3.0 -0.9C3.0 -0.3 3.3 -0.2 3.6 -0.25" stroke-width="1.05"/></g>
<path d="M560 427q1.25 -2.0 2.5 -0.6t2.5 -0.6" stroke="#262626" stroke-width="0.95" stroke-linecap="round" fill="none"/>
<text x="567" y="430.8" font-size="11" text-anchor="start" textLength="5.5" lengthAdjust="spacingAndGlyphs" >a</text>
<text x="565.5" y="441.6" font-size="11.5" text-anchor="start" font-style="italic" textLength="8.2" lengthAdjust="spacingAndGlyphs" >E</text>
<text x="574.3" y="441.6" font-size="11.5" text-anchor="start" >,</text>
<text x="577.9" y="441.6" font-size="11.5" text-anchor="start" textLength="16.3" lengthAdjust="spacing" >bin</text>
<g transform="translate(550.5 460.6)" stroke="#262626" fill="none" stroke-linecap="round"><path d="M0.35 -4.7C0.9 -6.0 1.5 -6.25 2.5 -6.25H6.35" stroke-width="1.0"/><path d="M3.85 -6.1C3.5 -4.2 3.0 -2.2 3.0 -0.9C3.0 -0.3 3.3 -0.2 3.6 -0.25" stroke-width="1.05"/></g>
<path d="M551.4 451.1q1.25 -2.0 2.5 -0.6t2.5 -0.6" stroke="#262626" stroke-width="0.95" stroke-linecap="round" fill="none"/>
<text x="558.4" y="454.9" font-size="11" text-anchor="start" textLength="5.5" lengthAdjust="spacingAndGlyphs" >a</text>
<text x="556.9" y="465.7" font-size="11.5" text-anchor="start" font-style="italic" textLength="8.4" lengthAdjust="spacingAndGlyphs" >R</text>
<text x="566.2" y="462.2" font-size="8" text-anchor="start" >2</text>
<text x="565.8" y="468.4" font-size="8" text-anchor="start" textLength="8" lengthAdjust="spacing" >ee</text>
<text x="574.3" y="465.7" font-size="11.5" text-anchor="start" >,</text>
<text x="577.9" y="465.7" font-size="11.5" text-anchor="start" textLength="16.3" lengthAdjust="spacing" >bin</text>
<g transform="translate(545.3 484.4)" stroke="#262626" fill="none" stroke-linecap="round"><path d="M0.35 -4.7C0.9 -6.0 1.5 -6.25 2.5 -6.25H6.35" stroke-width="1.0"/><path d="M3.85 -6.1C3.5 -4.2 3.0 -2.2 3.0 -0.9C3.0 -0.3 3.3 -0.2 3.6 -0.25" stroke-width="1.05"/></g>
<path d="M546.2 474.9q1.25 -2.0 2.5 -0.6t2.5 -0.6" stroke="#262626" stroke-width="0.95" stroke-linecap="round" fill="none"/>
<text x="553.2" y="478.7" font-size="11" text-anchor="start" textLength="5.5" lengthAdjust="spacingAndGlyphs" >a</text>
<text x="551.7" y="489.5" font-size="11.5" text-anchor="start" font-style="italic" textLength="8.4" lengthAdjust="spacingAndGlyphs" >R</text>
<text x="561" y="486" font-size="8" text-anchor="start" >2</text>
<text x="560.3" y="491.2" font-size="8" text-anchor="start" textLength="13.2" lengthAdjust="spacing" >gyr</text>
<text x="574.3" y="489.5" font-size="11.5" text-anchor="start" >,</text>
<text x="577.9" y="489.5" font-size="11.5" text-anchor="start" textLength="16.3" lengthAdjust="spacing" >bin</text>
<g transform="translate(554 508.3)" stroke="#262626" fill="none" stroke-linecap="round"><path d="M0.35 -4.7C0.9 -6.0 1.5 -6.25 2.5 -6.25H6.35" stroke-width="1.0"/><path d="M3.85 -6.1C3.5 -4.2 3.0 -2.2 3.0 -0.9C3.0 -0.3 3.3 -0.2 3.6 -0.25" stroke-width="1.05"/></g>
<path d="M554.9 498.8q1.25 -2.0 2.5 -0.6t2.5 -0.6" stroke="#262626" stroke-width="0.95" stroke-linecap="round" fill="none"/>
<text x="561.9" y="502.6" font-size="11" text-anchor="start" textLength="5.5" lengthAdjust="spacingAndGlyphs" >a</text>
<text x="560.4" y="513.4" font-size="11.5" text-anchor="start" font-style="italic" textLength="9" lengthAdjust="spacingAndGlyphs" >N</text>
<text x="569.9" y="515.2" font-size="8" text-anchor="start" >c</text>
<text x="574.3" y="513.4" font-size="11.5" text-anchor="start" >,</text>
<text x="577.9" y="513.4" font-size="11.5" text-anchor="start" textLength="16.3" lengthAdjust="spacing" >bin</text>
</svg>
</body></html>
